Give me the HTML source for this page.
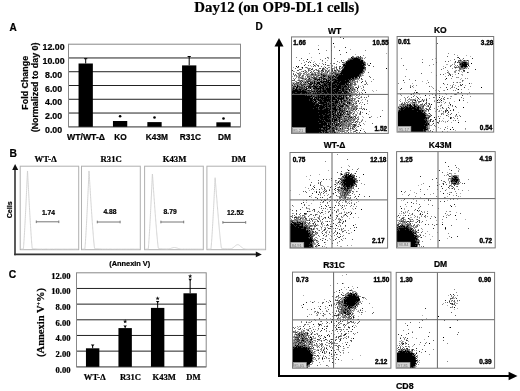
<!DOCTYPE html>
<html><head><meta charset="utf-8"><style>
html,body{margin:0;padding:0;background:#fff;}
body{width:520px;height:391px;overflow:hidden;position:relative;}
svg{position:absolute;left:0;top:0;filter:grayscale(1);}
</style></head><body>
<svg width="520" height="391" viewBox="0 0 520 391">
<text x="194.3" y="12.3" font-family='"Liberation Serif", serif' font-size="14.8" font-weight="bold" text-anchor="start" fill="#000" stroke="#000" stroke-width="0.22" >Day12 (on OP9-DL1 cells)</text>
<text x="9.6" y="30.5" font-family='"Liberation Sans", sans-serif' font-size="10" font-weight="bold" text-anchor="start" fill="#000" stroke="#000" stroke-width="0.22" >A</text>
<text x="9.6" y="157.3" font-family='"Liberation Sans", sans-serif' font-size="10.3" font-weight="bold" text-anchor="start" fill="#000" stroke="#000" stroke-width="0.22" >B</text>
<text x="8.8" y="277.8" font-family='"Liberation Sans", sans-serif' font-size="10.3" font-weight="bold" text-anchor="start" fill="#000" stroke="#000" stroke-width="0.22" >C</text>
<text x="255.4" y="30.3" font-family='"Liberation Sans", sans-serif' font-size="10" font-weight="bold" text-anchor="start" fill="#000" stroke="#000" stroke-width="0.22" >D</text>
<line x1="68.5" y1="57.96666666666667" x2="240.5" y2="57.96666666666667" stroke="#222" stroke-width="1" />
<line x1="68.5" y1="71.73333333333333" x2="240.5" y2="71.73333333333333" stroke="#222" stroke-width="1" />
<line x1="68.5" y1="85.5" x2="240.5" y2="85.5" stroke="#222" stroke-width="1" />
<line x1="68.5" y1="99.26666666666667" x2="240.5" y2="99.26666666666667" stroke="#222" stroke-width="1" />
<line x1="68.5" y1="113.03333333333333" x2="240.5" y2="113.03333333333333" stroke="#222" stroke-width="1" />
<rect x="68.5" y="44.2" width="172.0" height="82.6" fill="none" stroke="#888" stroke-width="1" />
<line x1="68.5" y1="126.8" x2="240.5" y2="126.8" stroke="#777" stroke-width="1.2" />
<text x="53.6" y="50.2" font-family='"Liberation Sans", sans-serif' font-size="8.8" font-weight="bold" text-anchor="middle" fill="#000" stroke="#000" stroke-width="0.22" >12.00</text>
<text x="53.6" y="63.96666666666667" font-family='"Liberation Sans", sans-serif' font-size="8.8" font-weight="bold" text-anchor="middle" fill="#000" stroke="#000" stroke-width="0.22" >10.00</text>
<text x="53.6" y="77.73333333333333" font-family='"Liberation Sans", sans-serif' font-size="8.8" font-weight="bold" text-anchor="middle" fill="#000" stroke="#000" stroke-width="0.22" >8.00</text>
<text x="53.6" y="91.5" font-family='"Liberation Sans", sans-serif' font-size="8.8" font-weight="bold" text-anchor="middle" fill="#000" stroke="#000" stroke-width="0.22" >6.00</text>
<text x="53.6" y="105.26666666666667" font-family='"Liberation Sans", sans-serif' font-size="8.8" font-weight="bold" text-anchor="middle" fill="#000" stroke="#000" stroke-width="0.22" >4.00</text>
<text x="53.6" y="119.03333333333333" font-family='"Liberation Sans", sans-serif' font-size="8.8" font-weight="bold" text-anchor="middle" fill="#000" stroke="#000" stroke-width="0.22" >2.00</text>
<text x="53.6" y="132.8" font-family='"Liberation Sans", sans-serif' font-size="8.8" font-weight="bold" text-anchor="middle" fill="#000" stroke="#000" stroke-width="0.22" >0.00</text>
<rect x="78.55" y="63.5" width="14.3" height="63.3" fill="#000" stroke="none" stroke-width="1" />
<line x1="85.7" y1="58.7" x2="85.7" y2="63.5" stroke="#000" stroke-width="1" />
<line x1="84.10000000000001" y1="58.7" x2="87.3" y2="58.7" stroke="#000" stroke-width="1" />
<rect x="112.94999999999999" y="121.0" width="14.3" height="5.799999999999997" fill="#000" stroke="none" stroke-width="1" />
<circle cx="120.1" cy="116.2" r="1.3" fill="#000"/>
<rect x="147.35" y="122.1" width="14.3" height="4.700000000000003" fill="#000" stroke="none" stroke-width="1" />
<circle cx="154.5" cy="117.5" r="1.3" fill="#000"/>
<rect x="182.04999999999998" y="65.4" width="14.3" height="61.39999999999999" fill="#000" stroke="none" stroke-width="1" />
<line x1="189.2" y1="56.5" x2="189.2" y2="65.4" stroke="#000" stroke-width="1" />
<line x1="187.6" y1="56.5" x2="190.79999999999998" y2="56.5" stroke="#000" stroke-width="1" />
<rect x="216.35" y="122.3" width="14.3" height="4.5" fill="#000" stroke="none" stroke-width="1" />
<circle cx="223.5" cy="118.5" r="1.3" fill="#000"/>
<text x="67.0" y="139.6" font-family='"Liberation Sans", sans-serif' font-size="8.3" font-weight="bold" text-anchor="start" fill="#000" stroke="#000" stroke-width="0.22" textLength="38" lengthAdjust="spacingAndGlyphs">WT/WT-Δ</text>
<text x="114.3" y="139.6" font-family='"Liberation Sans", sans-serif' font-size="8.3" font-weight="bold" text-anchor="start" fill="#000" stroke="#000" stroke-width="0.22" >KO</text>
<text x="145.8" y="139.6" font-family='"Liberation Sans", sans-serif' font-size="8.3" font-weight="bold" text-anchor="start" fill="#000" stroke="#000" stroke-width="0.22" >K43M</text>
<text x="179.8" y="139.6" font-family='"Liberation Sans", sans-serif' font-size="8.3" font-weight="bold" text-anchor="start" fill="#000" stroke="#000" stroke-width="0.22" >R31C</text>
<text x="217.9" y="139.6" font-family='"Liberation Sans", sans-serif' font-size="8.3" font-weight="bold" text-anchor="start" fill="#000" stroke="#000" stroke-width="0.22" >DM</text>
<text transform="translate(28.1,82.8) rotate(-90)" font-family='"Liberation Sans", sans-serif' font-size="8.9" font-weight="bold" stroke="#000" stroke-width="0.22" text-anchor="middle">Fold Change</text>
<text transform="translate(38.0,87.4) rotate(-90)" font-family='"Liberation Sans", sans-serif' font-size="8.9" font-weight="bold" stroke="#000" stroke-width="0.22" text-anchor="middle">(Normalized to day 0)</text>
<line x1="15" y1="168" x2="15" y2="255.2" stroke="#333" stroke-width="1.6" />
<path d="M15.1 164.1 L18.2 169.9 L12.2 169.9 Z" fill="#111"/>
<line x1="14.2" y1="254.4" x2="257" y2="254.4" stroke="#333" stroke-width="1.6" />
<path d="M261.8 254.4 L255.8 251.6 L255.8 257.2 Z" fill="#111"/>
<rect x="20.2" y="166.2" width="58.5" height="83.5" fill="none" stroke="#b0b0b0" stroke-width="1" />
<text x="34.6" y="161.7" font-family='"Liberation Serif", serif' font-size="8.7" font-weight="bold" text-anchor="start" fill="#000" stroke="#000" stroke-width="0.22" >WT-Δ</text>
<text x="41.900000000000006" y="214.8" font-family='"Liberation Sans", sans-serif' font-size="6.7" font-weight="bold" text-anchor="start" fill="#000" stroke="#000" stroke-width="0.22" >1.74</text>
<line x1="36.3" y1="221.8" x2="58.8" y2="221.8" stroke="#777" stroke-width="1" />
<line x1="36.3" y1="220.5" x2="36.3" y2="223.10000000000002" stroke="#777" stroke-width="1" />
<line x1="58.8" y1="220.5" x2="58.8" y2="223.10000000000002" stroke="#777" stroke-width="1" />
<polyline points="21.00,249.20 21.09,249.20 21.19,249.20 21.28,249.20 21.38,249.20 21.47,249.20 21.57,249.20 21.66,249.20 21.76,249.20 21.85,249.20 21.95,249.20 22.04,249.20 22.14,249.20 22.23,249.20 22.33,249.20 22.42,249.20 22.52,249.20 22.61,249.20 22.71,249.20 22.80,249.20 22.90,249.20 22.99,249.20 23.09,249.20 23.18,249.20 23.28,249.20 23.37,248.68 23.47,247.76 23.56,246.70 23.66,245.53 23.75,244.28 23.85,242.96 23.94,241.59 24.04,240.16 24.13,238.69 24.23,237.17 24.32,235.62 24.42,234.03 24.51,232.40 24.61,230.74 24.70,229.06 24.80,227.34 24.89,225.60 24.99,223.82 25.08,222.03 25.18,220.21 25.27,218.37 25.37,216.50 25.46,214.62 25.56,212.71 25.65,210.78 25.75,208.83 25.84,206.87 25.94,204.88 26.03,202.88 26.13,200.86 26.22,198.82 26.32,196.77 26.41,194.70 26.51,192.61 26.60,190.51 26.70,188.40 26.79,186.26 26.89,184.12 26.98,181.96 27.08,179.79 27.17,177.60 27.27,175.40 27.36,173.18 27.46,170.96 27.55,171.08 27.65,172.96 27.74,174.84 27.84,176.71 27.93,178.57 28.03,180.44 28.12,182.29 28.22,184.14 28.31,185.98 28.41,187.82 28.50,189.65 28.60,191.46 28.69,193.27 28.79,195.07 28.88,196.86 28.98,198.64 29.07,200.41 29.17,202.17 29.26,203.91 29.36,205.65 29.45,207.37 29.55,209.07 29.64,210.77 29.74,212.45 29.83,214.11 29.93,215.76 30.02,217.40 30.12,219.02 30.21,220.62 30.31,222.20 30.40,223.77 30.50,225.32 30.59,226.84 30.69,228.35 30.78,229.83 30.88,231.30 30.97,232.73 31.07,234.15 31.16,235.53 31.26,236.89 31.35,238.22 31.45,239.51 31.54,240.77 31.64,241.99 31.73,243.17 31.83,244.30 31.92,245.37 32.02,246.38 32.11,247.31 32.21,248.12 32.30,248.68 32.40,248.69 32.49,248.70 32.59,248.70 32.68,248.71 32.78,248.72 32.87,248.72 32.97,248.73 33.06,248.74 33.16,248.74 33.25,248.75 33.35,248.76 33.44,248.76 33.54,248.77 33.63,248.78 33.73,248.78 33.82,248.79 33.92,248.79 34.01,248.80 34.11,248.81 34.20,248.81 34.30,248.82 34.39,248.82 34.49,248.83 34.58,248.83 34.68,248.84 34.77,248.85 34.87,248.85 34.96,248.86 35.06,248.86 35.15,248.87 35.25,248.87 35.34,248.88 35.44,248.88 35.53,248.89 35.63,248.89 35.72,248.90 35.82,248.90 35.91,248.91 36.01,248.91 36.10,248.91 36.20,248.92 36.29,248.92 36.39,248.93 36.48,248.93 36.58,248.94 36.67,248.94 36.77,248.94 36.86,248.95 36.96,248.95 37.05,248.96 37.15,248.96 37.24,248.96 37.34,248.97 37.43,248.97 37.53,248.97 37.62,248.98 37.72,248.98 37.81,248.99 37.91,248.99 38.00,248.99 38.10,249.00 38.19,249.00 38.29,249.00 38.38,249.00 38.48,249.01 38.57,249.01 38.67,249.01 38.76,249.02 38.86,249.02 38.95,249.02 39.05,249.02 39.14,249.03 39.24,249.03 39.33,249.03 39.43,249.04 39.52,249.04 39.62,249.04 39.71,249.04 39.81,249.05 39.90,249.05 40.00,249.05 40.09,249.05 40.19,249.06 40.28,249.06 40.38,249.06 40.47,249.06 40.57,249.06 40.66,249.07 40.76,249.07 40.85,249.07 40.95,249.07 41.04,249.07 41.14,249.08 41.23,249.08 41.33,249.08 41.42,249.08 41.52,249.08 41.61,249.09 41.71,249.09 41.80,249.09 41.90,249.09 41.99,249.09 42.09,249.09 42.18,249.10 42.28,249.10 42.37,249.10 42.47,249.10 42.56,249.10 42.66,249.10 42.75,249.11 42.85,249.11 42.94,249.11 43.04,249.11 43.13,249.11 43.23,249.11 43.32,249.11 43.42,249.12 43.51,249.12 43.61,249.12 43.70,249.12 43.80,249.12 43.89,249.12 43.99,249.12 44.08,249.12 44.18,249.13 44.27,249.13 44.37,249.13 44.46,249.13 44.56,249.13 44.65,249.13 44.75,249.13 44.84,249.13 44.94,249.13 45.03,249.14 45.13,249.14 45.22,249.14 45.32,249.14 45.41,249.14 45.51,249.14 45.60,249.14 45.70,249.14 45.79,249.14 45.89,249.14 45.98,249.14 46.08,249.15 46.17,249.15 46.27,249.15 46.36,249.15 46.46,249.15 46.55,249.15 46.65,249.15 46.74,249.15 46.84,249.15 46.93,249.15 47.03,249.15 47.12,249.15 47.22,249.16 47.31,249.16 47.41,249.16 47.50,249.16 47.60,249.16 47.69,249.16 47.79,249.16 47.88,249.16 47.98,249.16 48.07,249.16 48.17,249.16 48.26,249.16 48.36,249.16 48.45,249.16 48.55,249.16 48.64,249.16 48.74,249.17 48.83,249.17 48.93,249.17 49.02,249.17 49.12,249.17 49.21,249.17 49.31,249.17 49.40,249.17 49.50,249.17 49.59,249.17 49.69,249.17 49.78,249.17 49.88,249.17 49.97,249.17 50.07,249.17 50.16,249.17 50.26,249.17 50.35,249.17 50.45,249.17 50.54,249.17 50.64,249.17 50.73,249.18 50.83,249.18 50.92,249.18 51.02,249.18 51.11,249.18 51.21,249.18 51.30,249.18 51.40,249.18 51.49,249.18 51.59,249.18 51.68,249.18 51.78,249.18 51.87,249.18 51.97,249.18 52.06,249.18 52.16,249.18 52.25,249.18 52.35,249.18 52.44,249.18 52.54,249.18 52.63,249.18 52.73,249.18 52.82,249.18 52.92,249.18 53.01,249.18 53.11,249.18 53.20,249.18 53.30,249.18 53.39,249.18 53.49,249.18 53.58,249.18 53.68,249.18 53.77,249.18 53.87,249.19 53.96,249.19 54.06,249.19 54.15,249.19 54.25,249.19 54.34,249.19 54.44,249.19 54.53,249.19 54.63,249.19 54.72,249.19 54.82,249.19 54.91,249.19 55.01,249.19 55.10,249.19 55.20,249.19 55.29,249.19 55.39,249.19 55.48,249.19 55.58,249.19 55.67,249.19 55.77,249.19 55.86,249.19 55.96,249.19 56.05,249.19 56.15,249.19 56.24,249.19 56.34,249.19 56.43,249.19 56.53,249.19 56.62,249.19 56.72,249.19 56.81,249.19 56.91,249.19 57.00,249.19 57.10,249.19 57.19,249.19 57.29,249.19 57.38,249.19 57.48,249.19 57.57,249.19 57.67,249.19 57.76,249.19 57.86,249.19 57.95,249.19 58.05,249.19 58.14,249.19 58.24,249.19 58.33,249.19 58.43,249.19 58.52,249.19 58.62,249.19 58.71,249.19 58.81,249.19 58.90,249.19 59.00,249.19 59.09,249.19 59.19,249.19 59.28,249.19 59.38,249.19 59.47,249.19 59.57,249.19 59.66,249.19 59.76,249.19 59.85,249.19 59.95,249.19 60.04,249.19 60.14,249.19 60.23,249.19 60.33,249.19 60.42,249.20 60.52,249.20 60.61,249.20 60.71,249.20 60.80,249.20 60.90,249.20 60.99,249.20 61.09,249.20 61.18,249.20 61.28,249.20 61.37,249.20 61.47,249.20 61.56,249.20 61.66,249.20 61.75,249.20 61.85,249.20 61.94,249.20 62.04,249.20 62.13,249.20 62.23,249.20 62.32,249.20 62.42,249.20 62.51,249.20 62.61,249.20 62.70,249.20 62.80,249.20 62.89,249.20 62.99,249.20 63.08,249.20 63.18,249.20 63.27,249.20 63.37,249.20 63.46,249.20 63.56,249.20 63.65,249.20 63.75,249.20 63.84,249.20 63.94,249.20 64.03,249.20 64.13,249.20 64.22,249.20 64.32,249.20 64.41,249.20 64.51,249.20 64.60,249.20 64.70,249.20 64.79,249.20 64.89,249.20 64.98,249.20 65.08,249.20 65.17,249.20 65.27,249.20 65.36,249.20 65.46,249.20 65.55,249.20 65.65,249.20 65.74,249.20 65.84,249.20 65.93,249.20 66.03,249.20 66.12,249.20 66.22,249.20 66.31,249.20 66.41,249.20 66.50,249.20 66.60,249.20 66.69,249.20 66.79,249.20 66.88,249.20 66.98,249.20 67.07,249.20 67.17,249.20 67.26,249.20 67.36,249.20 67.45,249.20 67.55,249.20 67.64,249.20 67.74,249.20 67.83,249.20 67.93,249.20 68.02,249.20 68.12,249.20 68.21,249.20 68.31,249.20 68.40,249.20 68.50,249.20 68.59,249.20 68.69,249.20 68.78,249.20 68.88,249.20 68.97,249.20 69.07,249.20 69.16,249.20 69.26,249.20 69.35,249.20 69.45,249.20 69.54,249.20 69.64,249.20 69.73,249.20 69.83,249.20 69.92,249.20 70.02,249.20 70.11,249.20 70.21,249.20 70.30,249.20 70.40,249.20 70.49,249.20 70.59,249.20 70.68,249.20 70.78,249.20 70.87,249.20 70.97,249.20 71.06,249.20 71.16,249.20 71.25,249.20 71.35,249.20 71.44,249.20 71.54,249.20 71.63,249.20 71.73,249.20 71.82,249.20 71.92,249.20 72.01,249.20 72.11,249.20 72.20,249.20 72.30,249.20 72.39,249.20 72.49,249.20 72.58,249.20 72.68,249.20 72.77,249.20 72.87,249.20 72.96,249.20 73.06,249.20 73.15,249.20 73.25,249.20 73.34,249.20 73.44,249.20 73.53,249.20 73.63,249.20 73.72,249.20 73.82,249.20 73.91,249.20 74.01,249.20 74.10,249.20 74.20,249.20 74.29,249.20 74.39,249.20 74.48,249.20 74.58,249.20 74.67,249.20 74.77,249.20 74.86,249.20 74.96,249.20 75.05,249.20 75.15,249.20 75.24,249.20 75.34,249.20 75.43,249.20 75.53,249.20 75.62,249.20 75.72,249.20 75.81,249.20 75.91,249.20 76.00,249.20 76.10,249.20 76.19,249.20 76.29,249.20 76.38,249.20 76.48,249.20 76.57,249.20 76.67,249.20 76.76,249.20 76.86,249.20 76.95,249.20 77.05,249.20 77.14,249.20 77.24,249.20 77.33,249.20 77.43,249.20 77.52,249.20 77.62,249.20 77.71,249.20 77.81,249.20 77.90,249.20" fill="none" stroke="#cfcfcf" stroke-width="0.9"/>
<rect x="81.5" y="166.2" width="58.80000000000001" height="83.5" fill="none" stroke="#b0b0b0" stroke-width="1" />
<text x="100.6" y="161.7" font-family='"Liberation Serif", serif' font-size="8.7" font-weight="bold" text-anchor="start" fill="#000" stroke="#000" stroke-width="0.22" >R31C</text>
<text x="103.4" y="213.6" font-family='"Liberation Sans", sans-serif' font-size="6.7" font-weight="bold" text-anchor="start" fill="#000" stroke="#000" stroke-width="0.22" >4.88</text>
<line x1="97.3" y1="222" x2="120.1" y2="222" stroke="#777" stroke-width="1" />
<line x1="97.3" y1="220.7" x2="97.3" y2="223.3" stroke="#777" stroke-width="1" />
<line x1="120.1" y1="220.7" x2="120.1" y2="223.3" stroke="#777" stroke-width="1" />
<polyline points="82.30,249.20 82.40,249.20 82.49,249.20 82.59,249.20 82.68,249.20 82.78,249.20 82.87,249.20 82.97,249.20 83.06,249.20 83.16,249.20 83.25,249.20 83.35,249.20 83.45,249.20 83.54,249.20 83.64,249.20 83.73,249.20 83.83,249.20 83.92,249.20 84.02,249.20 84.11,249.20 84.21,249.20 84.31,249.20 84.40,249.20 84.50,249.20 84.59,249.20 84.69,249.20 84.78,249.20 84.88,248.66 84.97,247.73 85.07,246.66 85.16,245.49 85.26,244.24 85.36,242.93 85.45,241.55 85.55,240.13 85.64,238.65 85.74,237.14 85.83,235.58 85.93,233.99 86.02,232.37 86.12,230.71 86.22,229.02 86.31,227.31 86.41,225.56 86.50,223.79 86.60,222.00 86.69,220.18 86.79,218.34 86.88,216.47 86.98,214.59 87.07,212.68 87.17,210.76 87.27,208.81 87.36,206.85 87.46,204.86 87.55,202.86 87.65,200.84 87.74,198.81 87.84,196.76 87.93,194.69 88.03,192.60 88.13,190.50 88.22,188.39 88.32,186.26 88.41,184.12 88.51,181.96 88.60,179.79 88.70,177.60 88.79,175.40 88.89,173.19 88.98,170.96 89.08,171.90 89.18,173.45 89.27,175.01 89.37,176.57 89.46,178.13 89.56,179.69 89.65,181.25 89.75,182.81 89.84,184.37 89.94,185.92 90.03,187.48 90.13,189.03 90.23,190.57 90.32,192.11 90.42,193.65 90.51,195.18 90.61,196.71 90.70,198.23 90.80,199.74 90.89,201.24 90.99,202.74 91.09,204.23 91.18,205.71 91.28,207.19 91.37,208.65 91.47,210.10 91.56,211.55 91.66,212.98 91.75,214.41 91.85,215.82 91.94,217.22 92.04,218.61 92.14,219.99 92.23,221.36 92.33,222.71 92.42,224.05 92.52,225.37 92.61,226.68 92.71,227.98 92.80,229.26 92.90,230.52 93.00,231.76 93.09,232.99 93.19,234.20 93.28,235.39 93.38,236.55 93.47,237.70 93.57,238.82 93.66,239.92 93.76,240.99 93.85,242.03 93.95,243.03 94.05,244.00 94.14,244.93 94.24,245.82 94.33,246.64 94.43,247.40 94.52,248.05 94.62,248.43 94.71,248.45 94.81,248.46 94.91,248.47 95.00,248.48 95.10,248.49 95.19,248.50 95.29,248.51 95.38,248.52 95.48,248.53 95.57,248.54 95.67,248.55 95.76,248.56 95.86,248.57 95.96,248.58 96.05,248.59 96.15,248.60 96.24,248.61 96.34,248.62 96.43,248.62 96.53,248.63 96.62,248.64 96.72,248.65 96.81,248.66 96.91,248.67 97.01,248.68 97.10,248.68 97.20,248.69 97.29,248.70 97.39,248.71 97.48,248.72 97.58,248.72 97.67,248.73 97.77,248.74 97.87,248.74 97.96,248.75 98.06,248.76 98.15,248.77 98.25,248.77 98.34,248.78 98.44,248.79 98.53,248.79 98.63,248.80 98.72,248.81 98.82,248.81 98.92,248.82 99.01,248.82 99.11,248.83 99.20,248.84 99.30,248.84 99.39,248.85 99.49,248.85 99.58,248.86 99.68,248.86 99.78,248.87 99.87,248.87 99.97,248.88 100.06,248.88 100.16,248.89 100.25,248.89 100.35,248.90 100.44,248.90 100.54,248.91 100.63,248.91 100.73,248.92 100.83,248.92 100.92,248.93 101.02,248.93 101.11,248.93 101.21,248.94 101.30,248.94 101.40,248.95 101.49,248.95 101.59,248.95 101.68,248.96 101.78,248.96 101.88,248.97 101.97,248.97 102.07,248.97 102.16,248.98 102.26,248.98 102.35,248.98 102.45,248.99 102.54,248.99 102.64,248.99 102.74,249.00 102.83,249.00 102.93,249.00 103.02,249.01 103.12,249.01 103.21,249.01 103.31,249.02 103.40,249.02 103.50,249.02 103.59,249.02 103.69,249.03 103.79,249.03 103.88,249.03 103.98,249.04 104.07,249.04 104.17,249.04 104.26,249.04 104.36,249.05 104.45,249.05 104.55,249.05 104.65,249.05 104.74,249.05 104.84,249.06 104.93,249.06 105.03,249.06 105.12,249.06 105.22,249.07 105.31,249.07 105.41,249.07 105.50,249.07 105.60,249.07 105.70,249.08 105.79,249.08 105.89,249.08 105.98,249.08 106.08,249.08 106.17,249.09 106.27,249.09 106.36,249.09 106.46,249.09 106.56,249.09 106.65,249.09 106.75,249.10 106.84,249.10 106.94,249.10 107.03,249.10 107.13,249.10 107.22,249.10 107.32,249.11 107.41,249.11 107.51,249.11 107.61,249.11 107.70,249.11 107.80,249.11 107.89,249.11 107.99,249.12 108.08,249.12 108.18,249.12 108.27,249.12 108.37,249.12 108.46,249.12 108.56,249.12 108.66,249.12 108.75,249.13 108.85,249.13 108.94,249.13 109.04,249.13 109.13,249.13 109.23,249.13 109.32,249.13 109.42,249.13 109.52,249.13 109.61,249.14 109.71,249.14 109.80,249.14 109.90,249.14 109.99,249.14 110.09,249.14 110.18,249.14 110.28,249.14 110.37,249.14 110.47,249.14 110.57,249.15 110.66,249.15 110.76,249.15 110.85,249.15 110.95,249.15 111.04,249.15 111.14,249.15 111.23,249.15 111.33,249.15 111.43,249.15 111.52,249.15 111.62,249.15 111.71,249.15 111.81,249.16 111.90,249.16 112.00,249.16 112.09,249.16 112.19,249.16 112.28,249.16 112.38,249.16 112.48,249.16 112.57,249.16 112.67,249.16 112.76,249.16 112.86,249.16 112.95,249.16 113.05,249.16 113.14,249.16 113.24,249.16 113.34,249.17 113.43,249.17 113.53,249.17 113.62,249.17 113.72,249.17 113.81,249.17 113.91,249.17 114.00,249.17 114.10,249.17 114.19,249.17 114.29,249.17 114.39,249.17 114.48,249.17 114.58,249.17 114.67,249.17 114.77,249.17 114.86,249.17 114.96,249.17 115.05,249.17 115.15,249.17 115.24,249.17 115.34,249.18 115.44,249.18 115.53,249.18 115.63,249.18 115.72,249.18 115.82,249.18 115.91,249.18 116.01,249.18 116.10,249.18 116.20,249.18 116.30,249.18 116.39,249.18 116.49,249.18 116.58,249.18 116.68,249.18 116.77,249.18 116.87,249.18 116.96,249.18 117.06,249.18 117.15,249.18 117.25,249.18 117.35,249.18 117.44,249.18 117.54,249.18 117.63,249.18 117.73,249.18 117.82,249.18 117.92,249.18 118.01,249.18 118.11,249.18 118.21,249.18 118.30,249.18 118.40,249.19 118.49,249.19 118.59,249.19 118.68,249.19 118.78,249.19 118.87,249.19 118.97,249.19 119.06,249.19 119.16,249.19 119.26,249.19 119.35,249.19 119.45,249.19 119.54,249.19 119.64,249.19 119.73,249.19 119.83,249.19 119.92,249.19 120.02,249.19 120.12,249.19 120.21,249.19 120.31,249.19 120.40,249.19 120.50,249.19 120.59,249.19 120.69,249.19 120.78,249.19 120.88,249.19 120.97,249.19 121.07,249.19 121.17,249.19 121.26,249.19 121.36,249.19 121.45,249.19 121.55,249.19 121.64,249.19 121.74,249.19 121.83,249.19 121.93,249.19 122.02,249.19 122.12,249.19 122.22,249.19 122.31,249.19 122.41,249.19 122.50,249.19 122.60,249.19 122.69,249.19 122.79,249.19 122.88,249.19 122.98,249.19 123.08,249.19 123.17,249.19 123.27,249.19 123.36,249.19 123.46,249.19 123.55,249.19 123.65,249.19 123.74,249.19 123.84,249.19 123.93,249.19 124.03,249.19 124.13,249.19 124.22,249.19 124.32,249.19 124.41,249.19 124.51,249.19 124.60,249.19 124.70,249.19 124.79,249.19 124.89,249.19 124.99,249.20 125.08,249.20 125.18,249.20 125.27,249.20 125.37,249.20 125.46,249.20 125.56,249.20 125.65,249.20 125.75,249.20 125.84,249.20 125.94,249.20 126.04,249.20 126.13,249.20 126.23,249.20 126.32,249.20 126.42,249.20 126.51,249.20 126.61,249.20 126.70,249.20 126.80,249.20 126.89,249.20 126.99,249.20 127.09,249.20 127.18,249.20 127.28,249.20 127.37,249.20 127.47,249.20 127.56,249.20 127.66,249.20 127.75,249.20 127.85,249.20 127.95,249.20 128.04,249.20 128.14,249.20 128.23,249.20 128.33,249.20 128.42,249.20 128.52,249.20 128.61,249.20 128.71,249.20 128.80,249.20 128.90,249.20 129.00,249.20 129.09,249.20 129.19,249.20 129.28,249.20 129.38,249.20 129.47,249.20 129.57,249.20 129.66,249.20 129.76,249.20 129.86,249.20 129.95,249.20 130.05,249.20 130.14,249.20 130.24,249.20 130.33,249.20 130.43,249.20 130.52,249.20 130.62,249.20 130.71,249.20 130.81,249.20 130.91,249.20 131.00,249.20 131.10,249.20 131.19,249.20 131.29,249.20 131.38,249.20 131.48,249.20 131.57,249.20 131.67,249.20 131.77,249.20 131.86,249.20 131.96,249.20 132.05,249.20 132.15,249.20 132.24,249.20 132.34,249.20 132.43,249.20 132.53,249.20 132.62,249.20 132.72,249.20 132.82,249.20 132.91,249.20 133.01,249.20 133.10,249.20 133.20,249.20 133.29,249.20 133.39,249.20 133.48,249.20 133.58,249.20 133.67,249.20 133.77,249.20 133.87,249.20 133.96,249.20 134.06,249.20 134.15,249.20 134.25,249.20 134.34,249.20 134.44,249.20 134.53,249.20 134.63,249.20 134.73,249.20 134.82,249.20 134.92,249.20 135.01,249.20 135.11,249.20 135.20,249.20 135.30,249.20 135.39,249.20 135.49,249.20 135.58,249.20 135.68,249.20 135.78,249.20 135.87,249.20 135.97,249.20 136.06,249.20 136.16,249.20 136.25,249.20 136.35,249.20 136.44,249.20 136.54,249.20 136.64,249.20 136.73,249.20 136.83,249.20 136.92,249.20 137.02,249.20 137.11,249.20 137.21,249.20 137.30,249.20 137.40,249.20 137.49,249.20 137.59,249.20 137.69,249.20 137.78,249.20 137.88,249.20 137.97,249.20 138.07,249.20 138.16,249.20 138.26,249.20 138.35,249.20 138.45,249.20 138.55,249.20 138.64,249.20 138.74,249.20 138.83,249.20 138.93,249.20 139.02,249.20 139.12,249.20 139.21,249.20 139.31,249.20 139.40,249.20 139.50,249.20" fill="none" stroke="#cfcfcf" stroke-width="0.9"/>
<rect x="144.6" y="166.2" width="58.70000000000002" height="83.5" fill="none" stroke="#b0b0b0" stroke-width="1" />
<text x="162.7" y="161.7" font-family='"Liberation Serif", serif' font-size="8.7" font-weight="bold" text-anchor="start" fill="#000" stroke="#000" stroke-width="0.22" >K43M</text>
<text x="163.6" y="214.0" font-family='"Liberation Sans", sans-serif' font-size="6.7" font-weight="bold" text-anchor="start" fill="#000" stroke="#000" stroke-width="0.22" >8.79</text>
<line x1="160.9" y1="222" x2="183.7" y2="222" stroke="#777" stroke-width="1" />
<line x1="160.9" y1="220.7" x2="160.9" y2="223.3" stroke="#777" stroke-width="1" />
<line x1="183.7" y1="220.7" x2="183.7" y2="223.3" stroke="#777" stroke-width="1" />
<polyline points="145.40,249.20 145.50,249.20 145.59,249.20 145.69,249.20 145.78,249.20 145.88,249.20 145.97,249.20 146.07,249.20 146.16,249.20 146.26,249.20 146.35,249.20 146.45,249.20 146.54,249.20 146.64,249.20 146.73,249.20 146.83,249.20 146.93,249.20 147.02,249.20 147.12,249.20 147.21,249.20 147.31,249.20 147.40,249.20 147.50,249.20 147.59,249.20 147.69,249.20 147.78,249.20 147.88,249.20 147.97,249.20 148.07,249.20 148.16,249.20 148.26,248.83 148.36,247.97 148.45,246.96 148.55,245.85 148.64,244.66 148.74,243.41 148.83,242.09 148.93,240.73 149.02,239.31 149.12,237.86 149.21,236.37 149.31,234.84 149.40,233.28 149.50,231.69 149.59,230.07 149.69,228.43 149.78,226.75 149.88,225.05 149.98,223.33 150.07,221.58 150.17,219.81 150.26,218.02 150.36,216.20 150.45,214.37 150.55,212.52 150.64,210.65 150.74,208.76 150.83,206.85 150.93,204.92 151.02,202.98 151.12,201.02 151.21,199.05 151.31,197.06 151.41,195.06 151.50,193.04 151.60,191.00 151.69,188.95 151.79,186.89 151.88,184.81 151.98,182.72 152.07,180.62 152.17,178.50 152.26,176.37 152.36,174.23 152.45,174.07 152.55,175.43 152.64,176.80 152.74,178.18 152.84,179.56 152.93,180.94 153.03,182.33 153.12,183.72 153.22,185.11 153.31,186.50 153.41,187.89 153.50,189.28 153.60,190.66 153.69,192.05 153.79,193.43 153.88,194.81 153.98,196.19 154.07,197.56 154.17,198.93 154.27,200.29 154.36,201.65 154.46,203.00 154.55,204.35 154.65,205.69 154.74,207.03 154.84,208.35 154.93,209.67 155.03,210.99 155.12,212.29 155.22,213.59 155.31,214.87 155.41,216.15 155.50,217.42 155.60,218.68 155.70,219.93 155.79,221.17 155.89,222.40 155.98,223.62 156.08,224.82 156.17,226.02 156.27,227.20 156.36,228.37 156.46,229.53 156.55,230.67 156.65,231.80 156.74,232.91 156.84,234.01 156.93,235.09 157.03,236.16 157.13,237.20 157.22,238.23 157.32,239.24 157.41,240.22 157.51,241.19 157.60,242.12 157.70,243.03 157.79,243.91 157.89,244.76 157.98,245.57 158.08,246.33 158.17,247.04 158.27,247.68 158.36,248.20 158.46,248.34 158.55,248.35 158.65,248.37 158.75,248.38 158.84,248.39 158.94,248.40 159.03,248.41 159.13,248.43 159.22,248.44 159.32,248.45 159.41,248.46 159.51,248.47 159.60,248.48 159.70,248.49 159.79,248.51 159.89,248.52 159.98,248.53 160.08,248.54 160.18,248.55 160.27,248.56 160.37,248.57 160.46,248.58 160.56,248.59 160.65,248.60 160.75,248.61 160.84,248.61 160.94,248.62 161.03,248.63 161.13,248.64 161.22,248.65 161.32,248.66 161.41,248.67 161.51,248.68 161.61,248.68 161.70,248.69 161.80,248.70 161.89,248.71 161.99,248.71 162.08,248.72 162.18,248.73 162.27,248.74 162.37,248.74 162.46,248.75 162.56,248.76 162.65,248.77 162.75,248.77 162.84,248.78 162.94,248.79 163.04,248.79 163.13,248.80 163.23,248.80 163.32,248.81 163.42,248.82 163.51,248.82 163.61,248.83 163.70,248.83 163.80,248.84 163.89,248.84 163.99,248.85 164.08,248.85 164.18,248.86 164.27,248.86 164.37,248.87 164.47,248.87 164.56,248.88 164.66,248.88 164.75,248.89 164.85,248.89 164.94,248.89 165.04,248.90 165.13,248.90 165.23,248.90 165.32,248.91 165.42,248.91 165.51,248.91 165.61,248.91 165.70,248.92 165.80,248.92 165.89,248.92 165.99,248.92 166.09,248.92 166.18,248.92 166.28,248.93 166.37,248.93 166.47,248.93 166.56,248.93 166.66,248.92 166.75,248.92 166.85,248.92 166.94,248.92 167.04,248.92 167.13,248.92 167.23,248.91 167.32,248.91 167.42,248.90 167.52,248.90 167.61,248.90 167.71,248.89 167.80,248.88 167.90,248.88 167.99,248.87 168.09,248.86 168.18,248.85 168.28,248.84 168.37,248.83 168.47,248.82 168.56,248.81 168.66,248.80 168.75,248.79 168.85,248.77 168.95,248.76 169.04,248.74 169.14,248.73 169.23,248.71 169.33,248.70 169.42,248.68 169.52,248.66 169.61,248.64 169.71,248.62 169.80,248.60 169.90,248.58 169.99,248.55 170.09,248.53 170.18,248.51 170.28,248.48 170.38,248.46 170.47,248.43 170.57,248.41 170.66,248.38 170.76,248.35 170.85,248.33 170.95,248.30 171.04,248.27 171.14,248.24 171.23,248.21 171.33,248.18 171.42,248.15 171.52,248.12 171.61,248.09 171.71,248.07 171.81,248.04 171.90,248.01 172.00,247.98 172.09,247.95 172.19,247.92 172.28,247.90 172.38,247.87 172.47,247.84 172.57,247.82 172.66,247.79 172.76,247.77 172.85,247.74 172.95,247.72 173.04,247.70 173.14,247.68 173.24,247.66 173.33,247.64 173.43,247.63 173.52,247.61 173.62,247.60 173.71,247.59 173.81,247.57 173.90,247.56 174.00,247.56 174.09,247.55 174.19,247.55 174.28,247.54 174.38,247.54 174.47,247.54 174.57,247.54 174.66,247.54 174.76,247.55 174.86,247.55 174.95,247.56 175.05,247.57 175.14,247.58 175.24,247.59 175.33,247.61 175.43,247.62 175.52,247.64 175.62,247.66 175.71,247.68 175.81,247.70 175.90,247.72 176.00,247.74 176.09,247.76 176.19,247.79 176.29,247.81 176.38,247.84 176.48,247.87 176.57,247.90 176.67,247.93 176.76,247.95 176.86,247.98 176.95,248.01 177.05,248.05 177.14,248.08 177.24,248.11 177.33,248.14 177.43,248.17 177.52,248.20 177.62,248.23 177.72,248.26 177.81,248.29 177.91,248.33 178.00,248.36 178.10,248.39 178.19,248.42 178.29,248.45 178.38,248.48 178.48,248.50 178.57,248.53 178.67,248.56 178.76,248.59 178.86,248.61 178.95,248.64 179.05,248.67 179.15,248.69 179.24,248.71 179.34,248.74 179.43,248.76 179.53,248.78 179.62,248.80 179.72,248.82 179.81,248.84 179.91,248.86 180.00,248.88 180.10,248.90 180.19,248.91 180.29,248.93 180.38,248.94 180.48,248.96 180.58,248.97 180.67,248.99 180.77,249.00 180.86,249.01 180.96,249.02 181.05,249.03 181.15,249.04 181.24,249.05 181.34,249.06 181.43,249.07 181.53,249.08 181.62,249.09 181.72,249.09 181.81,249.10 181.91,249.11 182.01,249.11 182.10,249.12 182.20,249.12 182.29,249.13 182.39,249.13 182.48,249.14 182.58,249.14 182.67,249.15 182.77,249.15 182.86,249.15 182.96,249.16 183.05,249.16 183.15,249.16 183.24,249.16 183.34,249.17 183.43,249.17 183.53,249.17 183.63,249.17 183.72,249.17 183.82,249.17 183.91,249.18 184.01,249.18 184.10,249.18 184.20,249.18 184.29,249.18 184.39,249.18 184.48,249.18 184.58,249.18 184.67,249.18 184.77,249.18 184.86,249.19 184.96,249.19 185.06,249.19 185.15,249.19 185.25,249.19 185.34,249.19 185.44,249.19 185.53,249.19 185.63,249.19 185.72,249.19 185.82,249.19 185.91,249.19 186.01,249.19 186.10,249.19 186.20,249.19 186.29,249.19 186.39,249.19 186.49,249.19 186.58,249.19 186.68,249.19 186.77,249.19 186.87,249.19 186.96,249.19 187.06,249.19 187.15,249.19 187.25,249.19 187.34,249.19 187.44,249.19 187.53,249.19 187.63,249.19 187.72,249.19 187.82,249.19 187.92,249.19 188.01,249.19 188.11,249.19 188.20,249.19 188.30,249.19 188.39,249.19 188.49,249.19 188.58,249.19 188.68,249.19 188.77,249.19 188.87,249.19 188.96,249.19 189.06,249.19 189.15,249.19 189.25,249.19 189.35,249.19 189.44,249.19 189.54,249.20 189.63,249.20 189.73,249.20 189.82,249.20 189.92,249.20 190.01,249.20 190.11,249.20 190.20,249.20 190.30,249.20 190.39,249.20 190.49,249.20 190.58,249.20 190.68,249.20 190.77,249.20 190.87,249.20 190.97,249.20 191.06,249.20 191.16,249.20 191.25,249.20 191.35,249.20 191.44,249.20 191.54,249.20 191.63,249.20 191.73,249.20 191.82,249.20 191.92,249.20 192.01,249.20 192.11,249.20 192.20,249.20 192.30,249.20 192.40,249.20 192.49,249.20 192.59,249.20 192.68,249.20 192.78,249.20 192.87,249.20 192.97,249.20 193.06,249.20 193.16,249.20 193.25,249.20 193.35,249.20 193.44,249.20 193.54,249.20 193.63,249.20 193.73,249.20 193.83,249.20 193.92,249.20 194.02,249.20 194.11,249.20 194.21,249.20 194.30,249.20 194.40,249.20 194.49,249.20 194.59,249.20 194.68,249.20 194.78,249.20 194.87,249.20 194.97,249.20 195.06,249.20 195.16,249.20 195.26,249.20 195.35,249.20 195.45,249.20 195.54,249.20 195.64,249.20 195.73,249.20 195.83,249.20 195.92,249.20 196.02,249.20 196.11,249.20 196.21,249.20 196.30,249.20 196.40,249.20 196.49,249.20 196.59,249.20 196.69,249.20 196.78,249.20 196.88,249.20 196.97,249.20 197.07,249.20 197.16,249.20 197.26,249.20 197.35,249.20 197.45,249.20 197.54,249.20 197.64,249.20 197.73,249.20 197.83,249.20 197.92,249.20 198.02,249.20 198.12,249.20 198.21,249.20 198.31,249.20 198.40,249.20 198.50,249.20 198.59,249.20 198.69,249.20 198.78,249.20 198.88,249.20 198.97,249.20 199.07,249.20 199.16,249.20 199.26,249.20 199.35,249.20 199.45,249.20 199.54,249.20 199.64,249.20 199.74,249.20 199.83,249.20 199.93,249.20 200.02,249.20 200.12,249.20 200.21,249.20 200.31,249.20 200.40,249.20 200.50,249.20 200.59,249.20 200.69,249.20 200.78,249.20 200.88,249.20 200.97,249.20 201.07,249.20 201.17,249.20 201.26,249.20 201.36,249.20 201.45,249.20 201.55,249.20 201.64,249.20 201.74,249.20 201.83,249.20 201.93,249.20 202.02,249.20 202.12,249.20 202.21,249.20 202.31,249.20 202.40,249.20 202.50,249.20" fill="none" stroke="#cfcfcf" stroke-width="0.9"/>
<rect x="206.9" y="166.2" width="58.70000000000002" height="83.5" fill="none" stroke="#b0b0b0" stroke-width="1" />
<text x="231.5" y="161.7" font-family='"Liberation Serif", serif' font-size="8.7" font-weight="bold" text-anchor="start" fill="#000" stroke="#000" stroke-width="0.22" >DM</text>
<text x="227.1" y="215.1" font-family='"Liberation Sans", sans-serif' font-size="6.7" font-weight="bold" text-anchor="start" fill="#000" stroke="#000" stroke-width="0.22" >12.52</text>
<line x1="222.9" y1="222.4" x2="245.7" y2="222.4" stroke="#777" stroke-width="1" />
<line x1="222.9" y1="221.1" x2="222.9" y2="223.70000000000002" stroke="#777" stroke-width="1" />
<line x1="245.7" y1="221.1" x2="245.7" y2="223.70000000000002" stroke="#777" stroke-width="1" />
<polyline points="207.70,249.20 207.80,249.20 207.89,249.20 207.99,249.20 208.08,249.20 208.18,249.20 208.27,249.20 208.37,249.20 208.46,249.20 208.56,249.20 208.65,249.20 208.75,249.20 208.84,249.20 208.94,249.20 209.03,249.20 209.13,249.20 209.23,249.20 209.32,249.20 209.42,249.20 209.51,249.20 209.61,249.20 209.70,249.20 209.80,249.20 209.89,249.20 209.99,249.20 210.08,249.20 210.18,249.20 210.27,249.20 210.37,249.20 210.46,249.20 210.56,249.20 210.66,249.20 210.75,249.20 210.85,249.20 210.94,248.98 211.04,248.21 211.13,247.28 211.23,246.24 211.32,245.13 211.42,243.95 211.51,242.71 211.61,241.43 211.70,240.10 211.80,238.73 211.89,237.33 211.99,235.89 212.08,234.42 212.18,232.91 212.28,231.38 212.37,229.83 212.47,228.25 212.56,226.64 212.66,225.01 212.75,223.36 212.85,221.69 212.94,219.99 213.04,218.28 213.13,216.55 213.23,214.80 213.32,213.03 213.42,211.24 213.51,209.44 213.61,207.62 213.71,205.78 213.80,203.93 213.90,202.06 213.99,200.18 214.09,198.28 214.18,196.37 214.28,194.45 214.37,192.51 214.47,190.56 214.56,188.59 214.66,186.61 214.75,184.62 214.85,182.62 214.94,180.61 215.04,178.58 215.14,177.73 215.23,178.90 215.33,180.08 215.42,181.27 215.52,182.47 215.61,183.67 215.71,184.88 215.80,186.10 215.90,187.31 215.99,188.54 216.09,189.76 216.18,190.98 216.28,192.21 216.37,193.43 216.47,194.66 216.57,195.88 216.66,197.11 216.76,198.33 216.85,199.55 216.95,200.76 217.04,201.97 217.14,203.18 217.23,204.39 217.33,205.59 217.42,206.79 217.52,207.98 217.61,209.16 217.71,210.34 217.80,211.52 217.90,212.69 218.00,213.85 218.09,215.01 218.19,216.16 218.28,217.30 218.38,218.43 218.47,219.56 218.57,220.68 218.66,221.78 218.76,222.89 218.85,223.98 218.95,225.06 219.04,226.13 219.14,227.20 219.23,228.25 219.33,229.29 219.43,230.32 219.52,231.34 219.62,232.35 219.71,233.35 219.81,234.33 219.90,235.30 220.00,236.25 220.09,237.20 220.19,238.12 220.28,239.03 220.38,239.92 220.47,240.79 220.57,241.64 220.66,242.48 220.76,243.28 220.85,244.07 220.95,244.82 221.05,245.54 221.14,246.23 221.24,246.87 221.33,247.46 221.43,247.97 221.52,248.25 221.62,248.27 221.71,248.28 221.81,248.30 221.90,248.31 222.00,248.32 222.09,248.34 222.19,248.35 222.28,248.36 222.38,248.37 222.48,248.39 222.57,248.40 222.67,248.41 222.76,248.42 222.86,248.44 222.95,248.45 223.05,248.46 223.14,248.47 223.24,248.48 223.33,248.49 223.43,248.50 223.52,248.51 223.62,248.53 223.71,248.54 223.81,248.55 223.91,248.56 224.00,248.57 224.10,248.58 224.19,248.59 224.29,248.60 224.38,248.60 224.48,248.61 224.57,248.62 224.67,248.63 224.76,248.64 224.86,248.65 224.95,248.66 225.05,248.67 225.14,248.68 225.24,248.68 225.34,248.69 225.43,248.70 225.53,248.71 225.62,248.71 225.72,248.72 225.81,248.73 225.91,248.74 226.00,248.74 226.10,248.75 226.19,248.76 226.29,248.76 226.38,248.77 226.48,248.78 226.57,248.78 226.67,248.79 226.77,248.79 226.86,248.80 226.96,248.80 227.05,248.81 227.15,248.81 227.24,248.82 227.34,248.82 227.43,248.83 227.53,248.83 227.62,248.84 227.72,248.84 227.81,248.84 227.91,248.85 228.00,248.85 228.10,248.85 228.19,248.85 228.29,248.86 228.39,248.86 228.48,248.86 228.58,248.86 228.67,248.86 228.77,248.86 228.86,248.86 228.96,248.86 229.05,248.86 229.15,248.85 229.24,248.85 229.34,248.85 229.43,248.84 229.53,248.84 229.62,248.83 229.72,248.82 229.82,248.82 229.91,248.81 230.01,248.80 230.10,248.79 230.20,248.78 230.29,248.76 230.39,248.75 230.48,248.74 230.58,248.72 230.67,248.70 230.77,248.68 230.86,248.66 230.96,248.64 231.05,248.62 231.15,248.59 231.25,248.57 231.34,248.54 231.44,248.51 231.53,248.48 231.63,248.44 231.72,248.41 231.82,248.37 231.91,248.33 232.01,248.29 232.10,248.25 232.20,248.20 232.29,248.15 232.39,248.10 232.48,248.05 232.58,248.00 232.68,247.94 232.77,247.89 232.87,247.83 232.96,247.76 233.06,247.70 233.15,247.64 233.25,247.57 233.34,247.50 233.44,247.43 233.53,247.36 233.63,247.28 233.72,247.20 233.82,247.13 233.91,247.05 234.01,246.97 234.11,246.89 234.20,246.81 234.30,246.72 234.39,246.64 234.49,246.55 234.58,246.47 234.68,246.38 234.77,246.30 234.87,246.21 234.96,246.13 235.06,246.05 235.15,245.96 235.25,245.88 235.34,245.80 235.44,245.72 235.54,245.64 235.63,245.56 235.73,245.49 235.82,245.41 235.92,245.34 236.01,245.27 236.11,245.21 236.20,245.14 236.30,245.08 236.39,245.03 236.49,244.97 236.58,244.92 236.68,244.88 236.77,244.83 236.87,244.79 236.96,244.76 237.06,244.73 237.16,244.70 237.25,244.68 237.35,244.66 237.44,244.65 237.54,244.64 237.63,244.64 237.73,244.64 237.82,244.64 237.92,244.65 238.01,244.66 238.11,244.68 238.20,244.70 238.30,244.73 238.39,244.76 238.49,244.80 238.59,244.84 238.68,244.88 238.78,244.93 238.87,244.98 238.97,245.03 239.06,245.09 239.16,245.15 239.25,245.21 239.35,245.28 239.44,245.35 239.54,245.42 239.63,245.50 239.73,245.57 239.82,245.65 239.92,245.73 240.02,245.82 240.11,245.90 240.21,245.98 240.30,246.07 240.40,246.15 240.49,246.24 240.59,246.33 240.68,246.42 240.78,246.50 240.87,246.59 240.97,246.68 241.06,246.76 241.16,246.85 241.25,246.93 241.35,247.02 241.45,247.10 241.54,247.18 241.64,247.26 241.73,247.34 241.83,247.42 241.92,247.50 242.02,247.57 242.11,247.64 242.21,247.71 242.30,247.78 242.40,247.85 242.49,247.92 242.59,247.98 242.68,248.04 242.78,248.10 242.88,248.16 242.97,248.21 243.07,248.26 243.16,248.32 243.26,248.36 243.35,248.41 243.45,248.46 243.54,248.50 243.64,248.54 243.73,248.58 243.83,248.62 243.92,248.65 244.02,248.69 244.11,248.72 244.21,248.75 244.31,248.78 244.40,248.81 244.50,248.83 244.59,248.86 244.69,248.88 244.78,248.90 244.88,248.92 244.97,248.94 245.07,248.96 245.16,248.98 245.26,248.99 245.35,249.01 245.45,249.02 245.54,249.04 245.64,249.05 245.73,249.06 245.83,249.07 245.93,249.08 246.02,249.09 246.12,249.10 246.21,249.10 246.31,249.11 246.40,249.12 246.50,249.12 246.59,249.13 246.69,249.13 246.78,249.14 246.88,249.14 246.97,249.15 247.07,249.15 247.16,249.16 247.26,249.16 247.36,249.16 247.45,249.16 247.55,249.17 247.64,249.17 247.74,249.17 247.83,249.17 247.93,249.17 248.02,249.18 248.12,249.18 248.21,249.18 248.31,249.18 248.40,249.18 248.50,249.18 248.59,249.18 248.69,249.18 248.79,249.18 248.88,249.19 248.98,249.19 249.07,249.19 249.17,249.19 249.26,249.19 249.36,249.19 249.45,249.19 249.55,249.19 249.64,249.19 249.74,249.19 249.83,249.19 249.93,249.19 250.02,249.19 250.12,249.19 250.22,249.19 250.31,249.19 250.41,249.19 250.50,249.19 250.60,249.19 250.69,249.19 250.79,249.19 250.88,249.19 250.98,249.19 251.07,249.19 251.17,249.19 251.26,249.19 251.36,249.19 251.45,249.19 251.55,249.19 251.65,249.19 251.74,249.19 251.84,249.19 251.93,249.19 252.03,249.19 252.12,249.19 252.22,249.19 252.31,249.19 252.41,249.19 252.50,249.19 252.60,249.19 252.69,249.19 252.79,249.19 252.88,249.19 252.98,249.19 253.07,249.19 253.17,249.20 253.27,249.20 253.36,249.20 253.46,249.20 253.55,249.20 253.65,249.20 253.74,249.20 253.84,249.20 253.93,249.20 254.03,249.20 254.12,249.20 254.22,249.20 254.31,249.20 254.41,249.20 254.50,249.20 254.60,249.20 254.70,249.20 254.79,249.20 254.89,249.20 254.98,249.20 255.08,249.20 255.17,249.20 255.27,249.20 255.36,249.20 255.46,249.20 255.55,249.20 255.65,249.20 255.74,249.20 255.84,249.20 255.93,249.20 256.03,249.20 256.13,249.20 256.22,249.20 256.32,249.20 256.41,249.20 256.51,249.20 256.60,249.20 256.70,249.20 256.79,249.20 256.89,249.20 256.98,249.20 257.08,249.20 257.17,249.20 257.27,249.20 257.36,249.20 257.46,249.20 257.56,249.20 257.65,249.20 257.75,249.20 257.84,249.20 257.94,249.20 258.03,249.20 258.13,249.20 258.22,249.20 258.32,249.20 258.41,249.20 258.51,249.20 258.60,249.20 258.70,249.20 258.79,249.20 258.89,249.20 258.99,249.20 259.08,249.20 259.18,249.20 259.27,249.20 259.37,249.20 259.46,249.20 259.56,249.20 259.65,249.20 259.75,249.20 259.84,249.20 259.94,249.20 260.03,249.20 260.13,249.20 260.22,249.20 260.32,249.20 260.42,249.20 260.51,249.20 260.61,249.20 260.70,249.20 260.80,249.20 260.89,249.20 260.99,249.20 261.08,249.20 261.18,249.20 261.27,249.20 261.37,249.20 261.46,249.20 261.56,249.20 261.65,249.20 261.75,249.20 261.84,249.20 261.94,249.20 262.04,249.20 262.13,249.20 262.23,249.20 262.32,249.20 262.42,249.20 262.51,249.20 262.61,249.20 262.70,249.20 262.80,249.20 262.89,249.20 262.99,249.20 263.08,249.20 263.18,249.20 263.27,249.20 263.37,249.20 263.47,249.20 263.56,249.20 263.66,249.20 263.75,249.20 263.85,249.20 263.94,249.20 264.04,249.20 264.13,249.20 264.23,249.20 264.32,249.20 264.42,249.20 264.51,249.20 264.61,249.20 264.70,249.20 264.80,249.20" fill="none" stroke="#cfcfcf" stroke-width="0.9"/>
<text transform="translate(12.0,209.8) rotate(-90)" font-family='"Liberation Sans", sans-serif' font-size="7.1" font-weight="bold" stroke="#000" stroke-width="0.2" text-anchor="middle">Cells</text>
<text x="109.2" y="266.0" font-family='"Liberation Sans", sans-serif' font-size="7.4" font-weight="bold" text-anchor="start" fill="#000" stroke="#000" stroke-width="0.22" >(Annexin V)</text>
<line x1="76.5" y1="288.4666666666667" x2="206.2" y2="288.4666666666667" stroke="#222" stroke-width="1" />
<line x1="76.5" y1="304.1333333333333" x2="206.2" y2="304.1333333333333" stroke="#222" stroke-width="1" />
<line x1="76.5" y1="319.8" x2="206.2" y2="319.8" stroke="#222" stroke-width="1" />
<line x1="76.5" y1="335.4666666666667" x2="206.2" y2="335.4666666666667" stroke="#222" stroke-width="1" />
<line x1="76.5" y1="351.1333333333333" x2="206.2" y2="351.1333333333333" stroke="#222" stroke-width="1" />
<rect x="76.5" y="272.8" width="129.7" height="94.0" fill="none" stroke="#888" stroke-width="1" />
<line x1="76.5" y1="366.8" x2="206.2" y2="366.8" stroke="#777" stroke-width="1.2" />
<text x="70.6" y="278.8" font-family='"Liberation Serif", serif' font-size="8.6" font-weight="bold" text-anchor="end" fill="#000" stroke="#000" stroke-width="0.22" >12.00</text>
<text x="70.6" y="294.4666666666667" font-family='"Liberation Serif", serif' font-size="8.6" font-weight="bold" text-anchor="end" fill="#000" stroke="#000" stroke-width="0.22" >10.00</text>
<text x="70.6" y="310.1333333333333" font-family='"Liberation Serif", serif' font-size="8.6" font-weight="bold" text-anchor="end" fill="#000" stroke="#000" stroke-width="0.22" >8.00</text>
<text x="70.6" y="325.8" font-family='"Liberation Serif", serif' font-size="8.6" font-weight="bold" text-anchor="end" fill="#000" stroke="#000" stroke-width="0.22" >6.00</text>
<text x="70.6" y="341.4666666666667" font-family='"Liberation Serif", serif' font-size="8.6" font-weight="bold" text-anchor="end" fill="#000" stroke="#000" stroke-width="0.22" >4.00</text>
<text x="70.6" y="357.1333333333333" font-family='"Liberation Serif", serif' font-size="8.6" font-weight="bold" text-anchor="end" fill="#000" stroke="#000" stroke-width="0.22" >2.00</text>
<text x="70.6" y="372.8" font-family='"Liberation Serif", serif' font-size="8.6" font-weight="bold" text-anchor="end" fill="#000" stroke="#000" stroke-width="0.22" >0.00</text>
<rect x="85.95" y="348.3" width="13.4" height="18.5" fill="#000" stroke="none" stroke-width="1" />
<line x1="92.65" y1="345.2" x2="92.65" y2="348.3" stroke="#000" stroke-width="1" />
<path d="M90.85 344.60H94.45L92.65 346.80Z" fill="#000"/>
<rect x="118.45" y="328.1" width="13.4" height="38.69999999999999" fill="#000" stroke="none" stroke-width="1" />
<line x1="125.15" y1="326.0" x2="125.15" y2="328.1" stroke="#000" stroke-width="1" />
<path d="M123.35 325.40H126.95L125.15 327.60Z" fill="#000"/>
<polygon points="125.15,319.30 125.71,320.73 127.24,320.82 126.05,321.79 126.44,323.28 125.15,322.45 123.86,323.28 124.25,321.79 123.06,320.82 124.59,320.73" fill="#111"/>
<rect x="150.95000000000002" y="307.9" width="13.4" height="58.900000000000034" fill="#000" stroke="none" stroke-width="1" />
<line x1="157.65" y1="301.5" x2="157.65" y2="307.9" stroke="#000" stroke-width="1" />
<path d="M155.85 300.90H159.45L157.65 303.10Z" fill="#000"/>
<polygon points="157.65,296.20 158.21,297.63 159.74,297.72 158.55,298.69 158.94,300.18 157.65,299.35 156.36,300.18 156.75,298.69 155.56,297.72 157.09,297.63" fill="#111"/>
<rect x="183.45000000000002" y="293.3" width="13.4" height="73.5" fill="#000" stroke="none" stroke-width="1" />
<line x1="190.15" y1="279.4" x2="190.15" y2="293.3" stroke="#000" stroke-width="1" />
<path d="M188.35 278.80H191.95L190.15 281.00Z" fill="#000"/>
<polygon points="190.15,274.10 190.71,275.53 192.24,275.62 191.05,276.59 191.44,278.08 190.15,277.25 188.86,278.08 189.25,276.59 188.06,275.62 189.59,275.53" fill="#111"/>
<text x="83.8" y="380.0" font-family='"Liberation Serif", serif' font-size="8.6" font-weight="bold" text-anchor="start" fill="#000" stroke="#000" stroke-width="0.22" >WT-Δ</text>
<text x="120.0" y="380.0" font-family='"Liberation Serif", serif' font-size="8.6" font-weight="bold" text-anchor="start" fill="#000" stroke="#000" stroke-width="0.22" >R31C</text>
<text x="152.5" y="380.0" font-family='"Liberation Serif", serif' font-size="8.6" font-weight="bold" text-anchor="start" fill="#000" stroke="#000" stroke-width="0.22" >K43M</text>
<text x="186.3" y="380.0" font-family='"Liberation Serif", serif' font-size="8.6" font-weight="bold" text-anchor="start" fill="#000" stroke="#000" stroke-width="0.22" >DM</text>
<text transform="translate(43.8,322.5) rotate(-90)" font-family='"Liberation Serif", serif' font-size="10.5" font-weight="bold" stroke="#000" stroke-width="0.2" text-anchor="middle">(Annexin V<tspan font-size="6" dy="-3">+</tspan><tspan dy="3">%)</tspan></text>
<line x1="279" y1="44" x2="279" y2="377" stroke="#000" stroke-width="2" />
<path d="M279 38 L283.5 46.4 L274.5 46.4 Z" fill="#000"/>
<line x1="278" y1="376" x2="510" y2="376" stroke="#000" stroke-width="2" />
<path d="M517.5 376 L508.6 371.8 L508.6 380.2 Z" fill="#000"/>
<text x="396.0" y="388.7" font-family='"Liberation Sans", sans-serif' font-size="8.8" font-weight="bold" text-anchor="start" fill="#000" stroke="#000" stroke-width="0.22" >CD8</text>
<g transform="translate(0,0.5)" stroke="#000" stroke-width="1" fill="none"><path d="M333 43h1M351 57h1M352 58h1m1 0h4M307 59h1m45 0h7M350 60h10m1 0h2M348 61h15M346 62h17M346 63h18m6 0h1M344 64h1m1 0h16m1 0h2M343 65h21M296 66h1m1 0h1m46 0h18M302 67h1m41 0h20M344 68h20m22 0h1M343 69h20M342 70h21M342 71h20M341 72h21M340 73h20M321 74h1m15 0h1m3 0h1m1 0h16M323 75h1m9 0h1m2 0h1m2 0h20M324 76h1m3 0h1m5 0h1m3 0h19M321 77h1m7 0h1m2 0h1m2 0h1m1 0h17m1 0h2m2 0h1M309 78h1m14 0h1m5 0h1m6 0h14m1 0h2M315 79h1m2 0h2m3 0h1m2 0h1m3 0h1m2 0h3m2 0h10m1 0h1m1 0h1M317 80h1m8 0h1m1 0h2m2 0h1m2 0h10m1 0h3M314 81h1m5 0h2m1 0h4m1 0h1m1 0h1m3 0h3m1 0h2m1 0h8M305 82h1m4 0h1m3 0h1m2 0h3m1 0h3m3 0h5m1 0h6m1 0h7m2 0h1M308 83h1m3 0h1m1 0h1m2 0h3m4 0h1m1 0h1m2 0h6m2 0h8m1 0h1M310 84h2m4 0h1m2 0h2m3 0h2m2 0h3m1 0h1m2 0h1m1 0h1m1 0h6m1 0h2M297 85h1m15 0h1m7 0h2m1 0h3m2 0h8m1 0h3m4 0h1M295 86h1m1 0h1m6 0h1m4 0h1m2 0h1m1 0h2m1 0h1m1 0h2m1 0h2m2 0h1m2 0h1m1 0h4m1 0h5m1 0h1m1 0h3m1 0h1M296 87h2m10 0h1m1 0h1m4 0h2m3 0h2m1 0h1m1 0h1m1 0h1m1 0h7m1 0h4m2 0h1M293 88h1m2 0h1m9 0h1m3 0h1m2 0h2m1 0h5m1 0h2m2 0h7m3 0h5m1 0h2m6 0h1m6 0h1M295 89h2m2 0h2m4 0h2m11 0h1m1 0h1m2 0h1m2 0h7m1 0h5m3 0h2m2 0h1m2 0h1M293 90h5m2 0h1m1 0h2m4 0h1m8 0h1m2 0h1m2 0h3m1 0h8m1 0h5m1 0h2m5 0h1M292 91h14m6 0h1m1 0h1m1 0h1m1 0h3m1 0h4m1 0h6m1 0h4m3 0h1m1 0h1m1 0h2M292 92h3m2 0h4m1 0h5m3 0h1m6 0h1m2 0h1m3 0h3m1 0h6m1 0h2m1 0h4m2 0h1m1 0h1m18 0h1M292 93h1m1 0h6m2 0h3m1 0h1m1 0h1m4 0h1m1 0h1m1 0h3m2 0h2m1 0h2m2 0h6m1 0h1m1 0h3m1 0h1m1 0h2M292 94h8m1 0h10m4 0h2m1 0h1m2 0h3m1 0h1m1 0h3m1 0h10m1 0h1M292 95h13m1 0h1m4 0h1m6 0h1m1 0h5m2 0h6m1 0h2m3 0h1m1 0h1m1 0h1m2 0h1m3 0h1M292 96h20m1 0h1m4 0h1m1 0h1m1 0h1m1 0h1m1 0h3m1 0h2m1 0h1m1 0h2m2 0h2m2 0h1M292 97h18m2 0h1m2 0h2m1 0h5m1 0h11m1 0h1m1 0h1m2 0h1m1 0h1m2 0h1M292 98h21m1 0h1m1 0h1m1 0h1m2 0h6m1 0h1m1 0h5m2 0h7m2 0h1M292 99h17m1 0h2m1 0h3m1 0h2m1 0h1m1 0h1m1 0h13m1 0h1m1 0h2m7 0h1M292 100h17m1 0h3m1 0h2m2 0h4m1 0h7m1 0h2m3 0h1m1 0h1m2 0h1m2 0h1M292 101h20m1 0h1m1 0h2m3 0h2m2 0h2m1 0h1m1 0h5m1 0h3m3 0h1M292 102h21m1 0h2m2 0h1m1 0h7m3 0h1m4 0h3m3 0h1m7 0h1M292 103h23m4 0h5m2 0h1m1 0h1m2 0h3m1 0h1m3 0h1m3 0h1m3 0h1m1 0h1M292 104h23m1 0h3m4 0h4m1 0h1m1 0h2m1 0h1m10 0h1M292 105h22m1 0h7m1 0h2m1 0h1m2 0h6m1 0h1m2 0h1m2 0h1m3 0h1M292 106h27m1 0h4m1 0h2m1 0h4m3 0h1m2 0h1m1 0h3M292 107h24m1 0h1m1 0h6m1 0h1m3 0h2m2 0h2m3 0h1M292 108h21m1 0h4m1 0h4m3 0h3m1 0h6m3 0h2M292 109h26m2 0h2m2 0h4m1 0h2m2 0h4m2 0h1M292 110h38m5 0h2m3 0h1M292 111h36m1 0h2m1 0h2m1 0h1m3 0h1m2 0h1m3 0h2M292 112h26m1 0h12m1 0h1m2 0h1m3 0h1M292 113h33m1 0h2m2 0h1m2 0h1m3 0h1m2 0h1m2 0h1m22 0h1M292 114h30m1 0h4m2 0h2m1 0h2m1 0h1m2 0h1m1 0h1m1 0h1m5 0h1M292 115h27m1 0h3m2 0h6m2 0h2m1 0h1m2 0h2M292 116h31m1 0h5m1 0h2m1 0h1m3 0h1m7 0h1m3 0h1M292 117h40m1 0h1m1 0h1m2 0h2m11 0h1M292 118h27m1 0h3m1 0h3m1 0h1m3 0h1m3 0h1m2 0h1M292 119h28m1 0h7m1 0h1m2 0h1m1 0h3M292 120h30m1 0h1m1 0h8m1 0h3m2 0h1M292 121h26m1 0h6m1 0h7m1 0h1m4 0h1m4 0h1M292 122h31m1 0h2m4 0h2M292 123h27m2 0h6m1 0h1m1 0h1m1 0h1m1 0h1m3 0h1M292 124h35m1 0h1m1 0h1m1 0h1m3 0h1M292 125h31m1 0h1m1 0h4m6 0h1m3 0h1m19 0h1M292 126h31m3 0h1m1 0h3m4 0h1M292 127h35m2 0h2m2 0h1M292 128h27m1 0h1m2 0h2m1 0h1m1 0h2m1 0h2m7 0h1M292 129h29m3 0h1m1 0h2m8 0h1M292 130h32m1 0h2m6 0h1m26 0h1M292 131h29m2 0h1m2 0h1m4 0h1M292 132h27m1 0h2m1 0h1m1 0h3m3 0h1m2 0h1" stroke="#000"/><path d="M343 38h1M345 47h1M318 49h1M339 50h1M346 52h1M360 56h1M356 57h1m1 0h1M353 58h1m4 0h1m1 0h1M350 59h3m7 0h1M341 60h1m6 0h2m10 0h1M346 61h2M308 62h1m1 0h1m31 0h1m20 0h2M345 63h1M313 64h1m11 0h1m17 0h1m1 0h1m16 0h1M304 65h1m9 0h1m54 0h1M340 66h1m2 0h2m18 0h1M325 67h1m10 0h1m5 0h1m21 0h2M323 68h1m15 0h1m3 0h1m20 0h1M311 69h1m10 0h1m19 0h1M292 70h1m28 0h2m9 0h1m1 0h2M303 71h1m14 0h1m4 0h1m14 0h1m2 0h1m20 0h2M310 72h1m16 0h1m5 0h1m28 0h1M331 73h2m2 0h1m24 0h1M311 74h2m2 0h1m19 0h2m1 0h3m1 0h1m16 0h2M318 75h1m5 0h2m5 0h1m5 0h2m21 0h1M323 76h1m6 0h4m1 0h2m20 0h3M312 77h1m1 0h1m4 0h2m2 0h1m4 0h1m1 0h1m2 0h1m2 0h1M302 78h1m10 0h4m2 0h1m1 0h3m1 0h1m2 0h1m2 0h2m1 0h1m1 0h1m18 0h1m5 0h1M305 79h1m2 0h1m5 0h1m1 0h2m3 0h1m2 0h2m2 0h1m3 0h1m3 0h2m10 0h1m1 0h1m2 0h1M301 80h1m17 0h1m1 0h1m5 0h1m3 0h1m1 0h2m10 0h1m4 0h1m1 0h1M300 81h1m1 0h1m4 0h3m17 0h1m3 0h1m1 0h1m3 0h1m2 0h1m21 0h1M298 82h1m2 0h1m5 0h1m3 0h2m12 0h2m5 0h1m6 0h1m7 0h2m12 0h1M293 83h1m6 0h1m8 0h3m3 0h1m7 0h1m1 0h1m1 0h2m6 0h2m8 0h1m2 0h1m1 0h1M294 84h1m6 0h1m1 0h3m3 0h1m4 0h1m2 0h1m4 0h2m2 0h2m3 0h1m1 0h2m1 0h1m1 0h1m9 0h1m1 0h1M292 85h1m8 0h2m6 0h2m3 0h1m1 0h1m1 0h1m1 0h1m2 0h1m3 0h2m8 0h1m3 0h4m2 0h2m1 0h1M293 86h2m3 0h2m6 0h3m1 0h2m1 0h1m2 0h1m7 0h2m1 0h2m1 0h1m4 0h1m5 0h1m1 0h1M293 87h1m5 0h4m2 0h2m2 0h1m3 0h2m4 0h1m2 0h1m13 0h1m4 0h2m1 0h6m6 0h1m1 0h1M294 88h1m4 0h1m1 0h2m1 0h1m2 0h1m7 0h1m5 0h1m2 0h2m7 0h1m1 0h1m5 0h1m3 0h4M292 89h2m3 0h2m2 0h1m1 0h2m6 0h1m2 0h4m4 0h1m1 0h2m7 0h1m6 0h2m2 0h2m1 0h2m5 0h1M292 90h1m5 0h2m4 0h2m1 0h1m1 0h3m2 0h1m1 0h1m2 0h1m1 0h2m3 0h1m8 0h1m8 0h2m6 0h1M306 91h1m2 0h1m1 0h1m1 0h1m3 0h1m3 0h1m4 0h1m6 0h1m4 0h3m1 0h1m1 0h1m2 0h1m1 0h1M295 92h2m4 0h1m5 0h3m3 0h1m1 0h1m2 0h2m1 0h1m1 0h1m3 0h1m6 0h1m2 0h1m7 0h1m1 0h2m2 0h1M293 93h1m6 0h2m3 0h1m1 0h1m1 0h2m1 0h1m1 0h1m1 0h1m3 0h2m2 0h1m2 0h2m6 0h1m1 0h1m3 0h1m1 0h1m2 0h4M300 94h1m10 0h1m2 0h1m2 0h1m1 0h2m9 0h1m15 0h3m2 0h1M305 95h1m2 0h2m2 0h1m1 0h1m1 0h2m1 0h1m5 0h2m9 0h3m1 0h1m1 0h1m1 0h2m3 0h1M314 96h1m1 0h2m1 0h1m1 0h1m1 0h1m1 0h1m3 0h1m2 0h1m5 0h1m2 0h1m3 0h1m3 0h1M310 97h1m3 0h1m2 0h1m5 0h1m11 0h1m1 0h1m1 0h1m2 0h1M317 98h1m2 0h1m6 0h1m1 0h1m5 0h1m11 0h1M309 99h1m2 0h1m3 0h1m2 0h1m1 0h1m1 0h1m15 0h1m2 0h2m3 0h1M309 100h1m12 0h1m7 0h1m4 0h1m1 0h1m5 0h1m1 0h2m2 0h1m1 0h1M312 101h1m6 0h1m2 0h2m2 0h1m1 0h1m5 0h1m4 0h1m2 0h1m1 0h2m1 0h1m10 0h1M313 102h1m2 0h1m2 0h1m8 0h2m3 0h2m3 0h2m7 0h2M315 103h4m5 0h2m1 0h1m1 0h2m3 0h1m1 0h2m6 0h1m11 0h1M315 104h1m5 0h2m4 0h1m1 0h1m2 0h1m1 0h3m1 0h1m1 0h1m2 0h1m1 0h1m7 0h1m10 0h1M314 105h1m7 0h1m2 0h1m1 0h2m6 0h1m4 0h2m1 0h1m3 0h1M319 106h1m4 0h1m2 0h1m4 0h3m2 0h1m5 0h1m3 0h2m3 0h1M316 107h1m10 0h1m1 0h1m2 0h2m4 0h1m3 0h1M313 108h1m4 0h1m4 0h3m3 0h1m7 0h1m6 0h1M318 109h2m2 0h2m4 0h1m2 0h2m4 0h2m1 0h1m1 0h1m1 0h1m8 0h1m2 0h1m7 0h1m1 0h1M331 110h4m4 0h1m1 0h4M328 111h1m2 0h1m2 0h1m2 0h1m3 0h1m7 0h1M318 112h1m15 0h1m2 0h2m2 0h1m1 0h2m15 0h1M325 113h1m2 0h2m2 0h1m1 0h2m2 0h1m2 0h1m5 0h1m5 0h1M322 114h1m4 0h2m2 0h1m5 0h1m3 0h1m2 0h1m2 0h1M319 115h1m3 0h2m6 0h1m3 0h1m1 0h2m2 0h1M323 116h1m5 0h1m2 0h1m2 0h1m2 0h1m1 0h1m2 0h1m2 0h1m7 0h1m25 0h1M334 117h1m2 0h1m2 0h2m6 0h1m1 0h1m4 0h1m13 0h1M319 118h1m3 0h1m3 0h1m1 0h3m1 0h2m9 0h1M320 119h1m7 0h1m1 0h2m1 0h1m4 0h2m1 0h1m6 0h1M322 120h1m14 0h1m7 0h3M318 121h1m6 0h1m7 0h1m7 0h1m5 0h1m8 0h1M323 122h1m2 0h4m3 0h4m2 0h1m1 0h1m10 0h1m2 0h1M319 123h2m8 0h1m1 0h1m4 0h1m3 0h1M329 124h1m1 0h1m2 0h2m1 0h3m1 0h1m11 0h2M323 125h1m1 0h1m6 0h2m1 0h1m1 0h2m15 0h2M324 126h2m1 0h1m3 0h1m7 0h2m7 0h1m4 0h1m4 0h1M327 127h1m4 0h1m3 0h1m17 0h1M319 128h1m5 0h1m1 0h1m5 0h2m1 0h1m5 0h1m4 0h1m2 0h1m1 0h1M321 129h3m1 0h1m2 0h2m1 0h3M324 130h1m5 0h1m1 0h1m1 0h1m3 0h1m17 0h1M322 131h1m1 0h2m3 0h2m1 0h3M319 132h1m8 0h1m1 0h1m1 0h1m2 0h1m12 0h1" stroke="#333"/><path d="M340 37h1M331 50h1M319 53h1M340 54h1M352 56h1m5 0h1M327 57h1m24 0h2m5 0h2M301 58h1m23 0h1m8 0h1m16 0h1m7 0h1m2 0h1M349 59h1M322 60h1m24 0h1M306 61h1m30 0h1M325 62h1m17 0h1M334 63h1m29 0h1M305 64h1m10 0h1m6 0h1m18 0h1m22 0h1M308 65h1m8 0h2m8 0h2m35 0h2m2 0h1M313 66h1m4 0h1m2 0h1m17 0h1m24 0h1m8 0h1M297 67h1m8 0h1m24 0h1m7 0h1M295 68h1m6 0h1m6 0h1m2 0h1m6 0h2m1 0h1m4 0h1m4 0h1m3 0h1m28 0h1M299 69h2m7 0h1m3 0h1m3 0h1m15 0h1m4 0h1m25 0h1m1 0h1M297 70h2m6 0h1m2 0h1m5 0h1m2 0h2m6 0h2m1 0h1m8 0h2m2 0h1m21 0h1M306 71h1m4 0h1m1 0h1m11 0h1m1 0h2m3 0h1m2 0h1m3 0h2M305 72h1m8 0h1m6 0h1m12 0h2m32 0h1M293 73h1m3 0h2m4 0h1m8 0h1m2 0h1m2 0h1m2 0h1m1 0h1m10 0h1m1 0h4m21 0h2M293 74h1m1 0h1m4 0h1m6 0h1m5 0h1m8 0h3m1 0h1M294 75h1m1 0h1m2 0h1m2 0h2m11 0h1m3 0h1m1 0h2m3 0h1m1 0h3m28 0h1M299 76h1m2 0h1m4 0h3m3 0h1m2 0h2m3 0h2m2 0h2m2 0h1m7 0h1m31 0h1M298 77h1m1 0h1m6 0h1m3 0h1m3 0h2m37 0h1m2 0h1m12 0h1M301 78h1m1 0h1m2 0h1m20 0h1m1 0h1m3 0h1m1 0h1m15 0h1m2 0h1m1 0h2M294 79h1m14 0h3m8 0h1m8 0h1m1 0h1m20 0h1m1 0h2M292 80h3m3 0h2m6 0h1m1 0h3m2 0h2m7 0h3m5 0h1m18 0h1m3 0h2M306 81h1m3 0h3m2 0h2m1 0h1m3 0h1m26 0h2m1 0h1m4 0h1m7 0h1M296 82h2m5 0h1m9 0h1m2 0h1m3 0h1m3 0h1m25 0h1m3 0h1M295 83h4m5 0h1m8 0h1m2 0h1m4 0h2m24 0h1m3 0h2m2 0h1m10 0h1M296 84h2m1 0h2m6 0h1m5 0h1m31 0h1m3 0h1m1 0h1m2 0h2m9 0h1M294 85h1m3 0h1m4 0h1m4 0h1m6 0h1m1 0h1m28 0h1m2 0h1m1 0h1M300 86h3m15 0h1m2 0h1m28 0h1m7 0h1M292 87h1m1 0h1m8 0h2m6 0h1m5 0h2m5 0h1m1 0h1m1 0h1m21 0h2m3 0h1m7 0h1M292 88h1m4 0h2m1 0h1m2 0h1m4 0h2m24 0h1m9 0h1m7 0h2M294 89h1m7 0h1m16 0h1m1 0h1m29 0h2M301 90h1m4 0h1m6 0h1m1 0h1m2 0h1m22 0h1m4 0h1m10 0h1m4 0h1m1 0h1M307 91h2m6 0h1m34 0h2M311 92h1m2 0h1m1 0h1m5 0h1m20 0h1m13 0h1M311 93h1m38 0h1m8 0h1m2 0h1M313 94h1m10 0h1m1 0h1m14 0h1m1 0h3m4 0h1m1 0h1m2 0h1m3 0h1M307 95h1m2 0h1m2 0h1m1 0h1m17 0h1m13 0h2m7 0h1M312 96h1m2 0h1m18 0h1m2 0h1m6 0h1m1 0h1m3 0h1m17 0h1M311 97h1m28 0h1m3 0h2m1 0h2m12 0h1m2 0h1m1 0h1M315 98h1m3 0h1m16 0h1m7 0h1m3 0h1m2 0h2m5 0h2M337 99h1m6 0h1m1 0h1m5 0h1m1 0h1M313 100h1m2 0h2m15 0h2m5 0h1m9 0h1m7 0h1M317 101h1m20 0h1m1 0h1m2 0h1m4 0h1m7 0h1M327 102h1m3 0h2m9 0h3m1 0h1m3 0h1M340 103h3m5 0h1m1 0h2m7 0h1M320 104h1m16 0h1m1 0h1m2 0h1m3 0h1m2 0h1m2 0h1M338 105h1m6 0h1m10 0h1M336 106h1m8 0h2m8 0h1M318 107h1m6 0h1m2 0h1m7 0h2m2 0h2m2 0h2m1 0h2m2 0h1m3 0h1M336 108h1m4 0h3m1 0h2m1 0h2m1 0h1m1 0h2m1 0h2m3 0h1m1 0h1M341 109h1m4 0h1m1 0h1m5 0h1m7 0h1M330 110h1m6 0h2m6 0h1m5 0h2m2 0h1M336 111h1m3 0h1m2 0h2m15 0h1M331 112h1m1 0h1m6 0h1m1 0h1m2 0h1m1 0h1m1 0h3M331 113h1m7 0h1m5 0h1m3 0h2m9 0h1M334 114h1m1 0h1m9 0h1m2 0h1m10 0h1M342 115h2m5 0h1m6 0h1M334 116h1m1 0h1m2 0h1m1 0h1m13 0h1M336 117h1m7 0h1m2 0h1m5 0h1m3 0h1M335 118h1m1 0h2m1 0h1m4 0h2m1 0h3m1 0h1m3 0h1M337 119h1m2 0h1m1 0h1m1 0h3m4 0h1m1 0h2m3 0h1M324 120h1m17 0h3m4 0h2m3 0h1M335 121h4m3 0h2m1 0h1m2 0h1m1 0h1m2 0h1m7 0h1M337 122h1m2 0h1m1 0h1m1 0h1m1 0h1m12 0h1M327 123h1m5 0h1m3 0h1m1 0h1m2 0h2m2 0h1m2 0h2m21 0h1M342 124h3m3 0h2m1 0h1m3 0h1M330 125h2m2 0h1m6 0h3m1 0h2m1 0h2M323 126h1m8 0h1m1 0h1m2 0h1m4 0h1m3 0h1m7 0h1M331 127h1m2 0h2m3 0h1m2 0h1m9 0h1M321 128h2m7 0h1m4 0h1m1 0h1m7 0h1m2 0h1M330 129h1m3 0h2m1 0h1m2 0h1m1 0h1m5 0h1m4 0h1M327 130h1m1 0h1m1 0h1m7 0h1m7 0h1m9 0h1M321 131h1m5 0h2m11 0h1m1 0h2m10 0h2m8 0h1M322 132h1m1 0h1m8 0h1m3 0h1m18 0h1m2 0h1m5 0h1" stroke="#616161"/><path d="M326 50h1m38 0h1M363 55h1M353 56h1m3 0h1M296 57h1m57 0h2m1 0h1m3 0h1m3 0h1M328 58h1m21 0h1m13 0h1M320 59h1m27 0h1m12 0h1M299 60h1m3 0h1m27 0h1m11 0h1M309 61h1m31 0h1m21 0h2M304 62h1m34 0h1m4 0h1m20 0h1M301 63h1m13 0h1m6 0h1m7 0h1m2 0h1m10 0h1m20 0h1M336 64h1m30 0h1M332 65h1M315 66h1m20 0h1m5 0h1M298 67h1m6 0h1m22 0h2m4 0h1m8 0h1M307 68h2m1 0h1m20 0h1m1 0h2m6 0h2M301 69h1m13 0h1m7 0h2m6 0h1m2 0h1m1 0h1m27 0h1M309 70h2m5 0h1m6 0h1m5 0h1m9 0h1M293 71h1m7 0h1m6 0h1m10 0h1m1 0h2m8 0h1m4 0h1m27 0h1M296 72h1m2 0h1m15 0h1m1 0h3m2 0h1m2 0h1m10 0h1m1 0h1m1 0h1m23 0h1M300 73h2m2 0h1m1 0h1m1 0h1m2 0h1m5 0h1m1 0h2m3 0h3m2 0h2m2 0h1m29 0h1M298 74h2m8 0h1m5 0h1m1 0h1m1 0h1m1 0h1m4 0h1m3 0h1m2 0h1m1 0h1M300 75h1m5 0h2m2 0h5m1 0h2m9 0h1m4 0h1m1 0h2m26 0h1M296 76h1m8 0h1m5 0h1m2 0h1m5 0h1m6 0h1m32 0h1M296 77h1m2 0h1m1 0h2m5 0h2m3 0h1m4 0h1m3 0h1m2 0h3m3 0h1m2 0h1M293 78h1m1 0h1m9 0h1m2 0h1m8 0h1m8 0h1m31 0h2M304 79h1m2 0h1m19 0h1m28 0h1m1 0h1m2 0h2m10 0h1M300 80h1m1 0h1m4 0h1m4 0h1m2 0h2m1 0h1m1 0h1M295 81h2m2 0h1m4 0h2m7 0h1m3 0h1m1 0h1m9 0h1m2 0h1m18 0h1m2 0h2m15 0h1M299 82h2m3 0h1m1 0h1m1 0h1m6 0h1m35 0h3m3 0h1m8 0h1M301 83h1m3 0h2m13 0h1m33 0h1M292 84h1m2 0h1m2 0h1m3 0h1m3 0h1m8 0h1m2 0h1m2 0h1m30 0h2m10 0h1m2 0h1M295 85h1m3 0h1m4 0h2m1 0h1m3 0h1m42 0h1M296 86h1m6 0h1m43 0h1m1 0h1m1 0h3m9 0h1M298 87h1m13 0h1m39 0h2M295 88h1m15 0h1m39 0h1m9 0h1M309 89h1m2 0h2m25 0h1m10 0h1m2 0h1m3 0h1m5 0h1M312 90h1m34 0h2m1 0h2m2 0h1M310 91h1m42 0h2m1 0h1M312 92h1m29 0h1m9 0h3m6 0h1M351 93h2m2 0h1M312 94h1m40 0h1m2 0h1m8 0h1M351 95h2m6 0h1M342 96h1m8 0h1m6 0h1m2 0h1M313 97h1m35 0h2m1 0h1m3 0h2M345 98h1m4 0h1m2 0h3M345 99h1m4 0h1m14 0h1M347 100h2m3 0h3m12 0h1M314 101h1m3 0h1m27 0h1m2 0h1m1 0h2m14 0h1M345 102h1m6 0h1m2 0h1m4 0h1m1 0h1M338 103h1m6 0h1m7 0h3m11 0h1M341 104h1m6 0h1m1 0h2M337 105h1m10 0h6m3 0h1M339 106h1m13 0h2m1 0h2m3 0h1M349 107h1m2 0h1m1 0h1m1 0h1M338 108h1m8 0h1m4 0h1m6 0h1M345 109h1m4 0h2M347 110h1m1 0h2m7 0h1m23 0h1M345 111h1m2 0h1m1 0h1m3 0h1M336 112h1m11 0h1m5 0h1m7 0h1M344 113h1m3 0h1m2 0h1m7 0h1M339 114h1m3 0h1m8 0h1m2 0h2m2 0h1M332 115h1m14 0h2m1 0h1M342 116h1m1 0h1m2 0h2m1 0h2m6 0h1m12 0h1M332 117h1m10 0h1m2 0h1m2 0h1m2 0h1m17 0h1M341 118h3m10 0h2m2 0h1M343 119h1m3 0h1m1 0h2m6 0h1m4 0h1M333 120h1m4 0h1m1 0h1m10 0h3m3 0h1m4 0h1M340 121h1m14 0h1m1 0h1M343 122h1m1 0h1m2 0h2m1 0h1m5 0h1M341 123h1m2 0h2m2 0h1m2 0h1m4 0h1m6 0h1M327 124h1m17 0h3m2 0h1m8 0h1M339 125h1m4 0h1m5 0h1m1 0h1m3 0h1M333 126h1m2 0h1m1 0h1m4 0h2m2 0h1m2 0h1m4 0h1m1 0h1M328 127h1m8 0h1m5 0h3m2 0h1m1 0h1M338 128h2m4 0h1m8 0h1m1 0h1m28 0h1M338 129h2m1 0h1m1 0h1m12 0h1M328 130h1m7 0h1m3 0h3m1 0h1m1 0h1m1 0h1m1 0h1m4 0h1M338 131h1m2 0h1m2 0h1m2 0h1m5 0h1M329 132h1m6 0h1m2 0h1m4 0h2" stroke="#8a8a8a"/><path d="M382 40h1M318 45h1M334 46h1M334 47h1M350 49h1M309 53h1m76 0h1M355 54h1M356 56h1M311 57h1m16 0h1m33 0h1M348 58h2m11 0h1M362 59h1M311 60h1m15 0h1m35 0h1M314 61h1m7 0h1m22 0h1M313 62h1m31 0h1M319 63h1m23 0h1m23 0h1M310 65h1m4 0h1m13 0h1M311 66h1m12 0h1m7 0h1m1 0h1M293 67h1m7 0h1m5 0h1m15 0h1m11 0h1m5 0h1M324 68h1m1 0h1m13 0h1M309 69h1m8 0h1m6 0h1m1 0h1m1 0h1m9 0h2M304 70h1m8 0h1m5 0h1m16 0h1m27 0h2M294 71h1m7 0h1m2 0h1m14 0h1m5 0h1m2 0h1m3 0h2M300 72h1m3 0h1m1 0h2m3 0h2m3 0h1m7 0h1m1 0h1m2 0h2m1 0h1m4 0h1m1 0h1m23 0h1M299 73h1m9 0h1m3 0h2m7 0h1m4 0h1M303 74h4m2 0h2m6 0h1m1 0h1m7 0h2m1 0h1m2 0h1m27 0h2M295 75h1m2 0h1m9 0h2m10 0h1m40 0h1m1 0h1M292 76h1m1 0h1m2 0h2m2 0h1m1 0h1m6 0h1m7 0h1m42 0h1M303 77h1m1 0h1m4 0h1m6 0h1m6 0h1M298 78h3m3 0h1m5 0h3m5 0h1m1 0h1M298 79h2m2 0h2m2 0h1m5 0h2m8 0h1m34 0h1M297 80h1m5 0h2m6 0h1m13 0h1m25 0h1m5 0h1m1 0h1m5 0h1M301 81h1m1 0h1m49 0h1m2 0h1M292 82h3m60 0h1M292 83h1m1 0h1m4 0h1m2 0h2m3 0h1M293 84h1m14 0h1m3 0h1m43 0h1M293 85h1m2 0h1m3 0h1m5 0h1m5 0h1m6 0h1m32 0h1m2 0h1m2 0h1m3 0h1M292 86h1m12 0h1m54 0h1M295 87h1M305 88h1m6 0h1m41 0h1M307 89h2m46 0h1M353 90h1m1 0h1m16 0h1m3 0h1M348 91h1m6 0h1m2 0h1m14 0h1M349 92h2m8 0h1M353 93h2m1 0h1M349 94h1m4 0h1M353 95h2m2 0h1m10 0h1M347 96h1m4 0h1m2 0h1M360 97h1M313 98h1m35 0h1M348 99h1m2 0h1m3 0h1m6 0h1M339 100h1m2 0h1m14 0h1m3 0h1M350 101h1m3 0h2M317 102h1m22 0h1m10 0h1m1 0h1m2 0h1M319 104h1m27 0h1m7 0h1m5 0h1M344 105h1m9 0h1M344 106h1m4 0h1m1 0h1M343 107h1m2 0h1m3 0h1m2 0h1m7 0h1M350 108h1m4 0h1m4 0h1m3 0h1M343 109h1m5 0h1m2 0h1m2 0h1M346 110h1m1 0h1m4 0h1M338 111h1m13 0h2m2 0h1m12 0h1M352 112h1m4 0h1M336 113h1m5 0h1m3 0h1m7 0h1m2 0h1M345 114h1m4 0h1m2 0h1m14 0h1M344 115h3m6 0h1m1 0h1M352 116h2m8 0h1M342 117h1m2 0h1m12 0h1m4 0h1m13 0h1M347 118h1m3 0h1m1 0h1M352 119h1m2 0h1M348 120h1m12 0h1M346 121h1m2 0h1m1 0h1m6 0h1m6 0h1M332 122h1m14 0h1m2 0h1m2 0h2m5 0h1M335 123h1m11 0h1m11 0h1M333 124h1m6 0h1m11 0h1m3 0h1m1 0h1m5 0h1M347 125h1m5 0h1M341 126h1m3 0h1m3 0h1m1 0h2M338 127h1m2 0h1m4 0h2m5 0h1m2 0h1M341 128h1m1 0h1m2 0h1m4 0h1m9 0h1M344 129h1m4 0h2m1 0h1m1 0h1m8 0h1M337 130h1m5 0h1m1 0h1m5 0h1M335 131h3m1 0h1m6 0h1m3 0h1M338 132h1m2 0h2m3 0h1m3 0h2m1 0h1m3 0h1" stroke="#adadad"/><path d="M436 62h1m26 0h3M462 63h1m1 0h2m5 0h1M460 64h1m1 0h5M462 65h5m1 0h1M461 66h2m1 0h3M446 78h1M481 87h1M458 89h1M416 92h1M425 95h1M439 97h1M415 100h1m21 0h1m3 0h1m17 0h1M410 104h1m3 0h1m16 0h1m18 0h1M407 105h1m1 0h2m3 0h1M405 106h1m4 0h2m2 0h2m2 0h1M401 107h1m2 0h1m1 0h2m1 0h2m1 0h3m2 0h2m44 0h1M401 108h3m1 0h11m1 0h2M401 109h2m1 0h8m2 0h5M399 110h1m1 0h20m1 0h1m24 0h1M399 111h18m1 0h3m1 0h1M398 112h24m2 0h1M398 113h26M398 114h27M398 115h28M398 116h27M398 117h28m8 0h1M398 118h27m1 0h1m23 0h1M398 119h26m11 0h1M398 120h27m1 0h1M398 121h28M398 122h28m32 0h1M398 123h27m1 0h1m1 0h1M398 124h29m1 0h1M398 125h26m1 0h2M398 126h28M398 127h28M398 128h28M398 129h25m1 0h3m23 0h1M398 130h25m1 0h1M398 131h25m1 0h2" stroke="#000"/><path d="M458 57h1M459 58h1m12 0h1M460 60h1m3 0h1m2 0h1M455 61h1M457 62h1m1 0h1m2 0h1m3 0h1M460 63h2m1 0h1m2 0h1M461 64h1m5 0h1M461 65h1M463 66h1M455 67h1m5 0h2m2 0h1M464 68h1M475 69h1M463 70h2M467 72h1M458 73h1M450 75h1M403 80h1M443 83h1m25 0h1M462 84h1M461 85h1M410 87h1m35 0h1m17 0h1M401 88h1M447 89h1M429 91h1M413 93h1m25 0h1M411 94h1M462 95h1M417 97h1M418 98h1M422 99h1m3 0h1M426 100h1M420 101h1m2 0h1M413 102h2m11 0h1m12 0h1M401 104h1m1 0h1m3 0h1m16 0h1m4 0h1M411 105h1m1 0h1M400 106h1m2 0h1m2 0h2m1 0h1m2 0h1m3 0h1m6 0h1m4 0h1m26 0h1M398 107h1m3 0h2m1 0h1m2 0h1m2 0h1m3 0h2m2 0h2m21 0h1m5 0h1M399 108h2m3 0h1m11 0h1m3 0h1m8 0h1M400 109h1m2 0h1m8 0h2m7 0h1m5 0h1m25 0h1M400 110h1m20 0h1m1 0h1m4 0h1m16 0h1m4 0h1m2 0h1M398 111h1m18 0h1m3 0h1m23 0h1M422 112h1m25 0h1M424 113h2m3 0h1M456 114h1M431 115h1m14 0h1M425 116h1m3 0h1M426 117h1m1 0h1m21 0h1M425 118h1m2 0h1m10 0h1M424 119h3m3 0h1M425 120h1m4 0h1M426 121h2m2 0h1m1 0h1M426 122h2m9 0h1M425 123h1m1 0h1m5 0h1M427 124h1M424 125h1m2 0h1M426 127h1m25 0h1M427 128h1M423 129h1m3 0h1m25 0h1M423 130h1m1 0h1M423 131h1m8 0h1" stroke="#333"/><path d="M437 43h1M447 56h1M457 57h1M463 58h1M454 59h1M458 60h2m3 0h1M445 61h1m2 0h1m9 0h1m3 0h1m1 0h1M422 62h1m32 0h1m5 0h1M467 63h2M459 64h1m8 0h1M403 65h1m53 0h1m2 0h1M450 66h1m7 0h1m1 0h1m6 0h1M445 67h1m10 0h1m2 0h1m4 0h1M459 68h2m2 0h1M441 69h1m18 0h1M464 71h1M447 72h1M421 73h1m27 0h1M440 74h1m2 0h1m5 0h2M448 75h1M452 76h1M445 79h1M415 80h1m46 0h1M428 82h1m24 0h1m3 0h1M447 84h1m12 0h1M460 85h1M412 86h1m16 0h1m22 0h1M456 88h1M400 89h1M415 90h1M439 91h1M414 92h1m2 0h1m40 0h1m2 0h1M455 94h1M435 95h1M413 96h1M407 97h1m3 0h1m21 0h1m10 0h1m16 0h1M441 98h1m1 0h1m3 0h1M413 99h1m26 0h1m3 0h1m14 0h1M414 100h1m2 0h1m5 0h1m39 0h1M412 101h1m5 0h2M404 102h1m1 0h1m30 0h1m7 0h1M402 103h1m1 0h1m9 0h1m10 0h2m2 0h1M404 104h1m3 0h2m2 0h2m2 0h1m3 0h3M402 105h2m1 0h1m2 0h1m6 0h3m5 0h1m4 0h1m23 0h1M401 106h1m6 0h1m13 0h1m7 0h1M422 107h1m7 0h1M419 108h1m1 0h2m3 0h1M399 109h1m19 0h2m5 0h1m3 0h1m6 0h1m8 0h1M398 110h1m26 0h1M423 111h1m19 0h1M445 112h1M451 113h1M425 114h1m4 0h1m10 0h1m8 0h1M426 115h3M430 116h1m7 0h1m21 0h1M427 117h1m1 0h1m6 0h1m14 0h1M427 118h1m29 0h1M431 119h1M433 120h1m21 0h1M439 121h1m7 0h1m17 0h1M438 122h1M434 125h1M426 126h2M427 127h1m17 0h1M426 128h1M444 129h1M430 130h1M442 131h1" stroke="#616161"/><path d="M448 53h1M454 54h1M401 58h1M422 59h1m9 0h1M461 60h1m3 0h2m1 0h1M460 61h2m1 0h1m1 0h1m2 0h1M458 62h1m1 0h1m6 0h2M459 63h1M433 64h1m18 0h1m1 0h1M429 65h1m21 0h1m3 0h1M454 66h1m14 0h1M454 67h1m2 0h2m1 0h1m2 0h1M443 68h1m8 0h1m8 0h2m3 0h1m1 0h1M406 69h1m52 0h1M447 70h1m8 0h1m1 0h2M454 71h2m7 0h1M448 72h1m6 0h1m12 0h1M436 75h1M405 76h1M456 77h1m1 0h1M451 78h1m13 0h1m1 0h1M409 79h1M462 81h1M404 82h1m55 0h1M398 83h1M453 84h1M410 85h1m5 0h1m35 0h1M410 86h1m47 0h1m11 0h1M440 87h1m10 0h2m1 0h1M433 88h1m16 0h1M461 89h1M444 90h1m8 0h1m1 0h1M457 92h1m11 0h1M418 93h1m26 0h1M400 94h1m18 0h1m12 0h1m2 0h1m10 0h1m7 0h1m1 0h1M401 95h1m12 0h1m14 0h1m9 0h1M416 96h1m25 0h1m8 0h1m18 0h1M404 97h1m15 0h1m13 0h1M405 98h1m3 0h1m19 0h1m20 0h1m12 0h1M405 99h1m2 0h1m1 0h2m2 0h1m4 0h1m18 0h1M405 100h1m1 0h1m2 0h1m1 0h1m26 0h1M400 101h1m7 0h2m5 0h1m18 0h1M408 102h1m3 0h1m2 0h2m1 0h2m18 0h1m2 0h1m7 0h1M401 103h1m3 0h1m1 0h1m4 0h1m9 0h1m5 0h1m20 0h1M402 104h1m2 0h2m10 0h1m8 0h1M404 105h1m1 0h1m11 0h4m2 0h1m15 0h2m8 0h1M399 106h1m2 0h1m1 0h1m8 0h1m3 0h1m1 0h3m16 0h1m13 0h1M423 107h1m5 0h1m6 0h1m19 0h1M398 108h1m24 0h1m1 0h1m8 0h1m8 0h1m2 0h1m2 0h1M422 109h1m1 0h1m3 0h2M424 110h1m14 0h1m6 0h1M424 111h2m2 0h1m10 0h1m6 0h1m1 0h1M423 112h1M426 113h1m14 0h2m4 0h1M426 114h2m15 0h1m4 0h1M429 115h1m29 0h1M428 116h1m19 0h1m6 0h1m1 0h1M453 117h1M451 118h1M427 120h3m9 0h1m13 0h1M428 121h1m4 0h1m9 0h1M429 122h1M438 123h1M429 124h1m2 0h1M429 125h1m1 0h1M435 126h1M428 128h2m17 0h1m17 0h1M426 130h3M428 131h2" stroke="#8a8a8a"/><path d="M457 55h1m8 0h1M470 56h1M435 58h1M460 59h1m1 0h1M450 60h1M459 61h1m6 0h1M454 62h1M454 63h1M446 64h2M450 65h1m8 0h1M443 66h1m12 0h1m2 0h1M466 67h2M455 68h1m9 0h1M461 69h3M455 70h1M448 71h1m10 0h1m1 0h1M431 72h1m22 0h1m7 0h1M445 73h1m2 0h1M452 74h1m2 0h1m5 0h2M462 75h1M445 76h1M457 77h1M461 78h1M460 79h1M427 80h1m35 0h1M422 81h1M456 82h1m2 0h1M412 83h1m13 0h1m44 0h1M444 84h1M413 85h1m36 0h1m4 0h1m9 0h1M431 86h1M413 87h1m18 0h1M436 89h1m20 0h1m10 0h1M435 90h1m2 0h1m4 0h1M437 93h1m13 0h1M410 94h1m2 0h1m53 0h1M408 96h1m41 0h1M436 97h1M415 98h1m10 0h1m21 0h1M400 99h1m8 0h1m2 0h1m2 0h1m1 0h1m6 0h1m18 0h1M399 100h1m11 0h1m1 0h1m7 0h2m1 0h1m9 0h1M405 101h1m10 0h1m4 0h1m4 0h1m13 0h1m2 0h1m10 0h1M402 102h1m4 0h1m2 0h2m55 0h1M409 103h3m1 0h1m1 0h2m1 0h1m25 0h1M399 104h2m14 0h1m25 0h1M399 105h3m10 0h1m9 0h1m2 0h1m1 0h1m2 0h1m17 0h1M398 106h1m27 0h2m12 0h1M399 107h2m20 0h1M440 108h1m1 0h1M398 109h1m24 0h1M426 110h1m9 0h1m4 0h1M426 111h1m8 0h1m2 0h1M425 112h1m17 0h1m14 0h1M428 113h1m14 0h1M430 115h1m16 0h1m7 0h2M426 116h2m12 0h1M443 118h1m10 0h1M427 119h2m7 0h1M442 120h1m5 0h1m9 0h1M429 121h1m11 0h1m3 0h1M428 122h1m16 0h1m5 0h1M429 123h1M428 125h1m1 0h1M428 126h2m17 0h1M428 127h2m8 0h1M440 128h1M428 129h1m4 0h1m31 0h1M455 130h1M426 131h2m2 0h1m16 0h1" stroke="#adadad"/><path d="M348 170h1M341 174h1m4 0h1m1 0h1m1 0h1m12 0h1M346 175h1m2 0h2M345 176h2m1 0h4M345 177h5m2 0h2M346 178h7M345 179h8M343 180h12M344 181h11M338 182h1m2 0h1m1 0h2m1 0h9M344 183h9m1 0h1M342 184h1m1 0h9M344 185h1m1 0h4m1 0h2M343 186h1m2 0h4m1 0h1M314 187h1m29 0h1m2 0h1M335 188h1m5 0h1m3 0h1m1 0h2M344 189h1M347 190h1M316 192h1M361 209h1M307 211h1M304 213h1m46 0h1M345 214h1M330 215h1M328 217h1M292 222h2m3 0h1m1 0h1M291 223h1m2 0h2m4 0h3M290 224h3m1 0h6m2 0h1m24 0h1M291 225h3m1 0h1m1 0h2m3 0h1m33 0h1m16 0h1M290 226h5m1 0h7M290 227h8m1 0h4m1 0h2M290 228h11m3 0h2M290 229h16M290 230h16m1 0h1m1 0h1m44 0h1M290 231h18M290 232h18M290 233h20M290 234h19M290 235h19m1 0h1M290 236h20M290 237h18m2 0h1M290 238h19m1 0h1M290 239h22M290 240h23M290 241h22M290 242h20m1 0h1M290 243h20M290 244h19m1 0h2M290 245h22m6 0h1M290 246h19m2 0h1M290 247h21" stroke="#000"/><path d="M355 173h1M347 174h1M344 175h2m2 0h1m3 0h1m1 0h1M342 176h2m3 0h1m4 0h2m2 0h1M343 177h2m5 0h2M331 178h1m12 0h2m8 0h1M323 179h1m16 0h1m2 0h2m8 0h3M341 180h2M342 181h2m11 0h1M320 182h1m24 0h1M342 183h2m9 0h1M335 184h1m17 0h1m1 0h1M310 185h1m32 0h1m1 0h1m4 0h1m2 0h1M344 186h2m4 0h1m5 0h1M330 187h1m7 0h1m6 0h1m2 0h4M324 188h1m17 0h3m4 0h1M319 189h1m14 0h1m2 0h1m7 0h3M329 190h1m8 0h1m4 0h1m1 0h2m2 0h1M316 191h1m29 0h1M319 192h1m15 0h1m8 0h2m2 0h1M312 193h1m20 0h1m11 0h1m1 0h1M318 194h1m25 0h1m14 0h1M336 195h1m7 0h1M309 196h1m45 0h1m2 0h1m10 0h1M322 197h1m22 0h1M317 198h1M347 199h1M321 200h1m3 0h1m11 0h1m2 0h1M323 201h1M303 202h1M301 203h1M354 204h1M325 205h1m9 0h1m2 0h1m3 0h1M321 206h1m4 0h1M330 207h1m3 0h1m7 0h1M355 208h1M300 209h1m13 0h1M296 210h1M336 211h1M321 212h1m26 0h1M296 213h1m8 0h1M350 214h1M337 216h1M294 217h3m28 0h1M300 218h1m4 0h1M311 219h1m10 0h1m17 0h1M309 220h1m35 0h1M291 221h2m4 0h1m20 0h1m8 0h1m15 0h1m1 0h1M294 222h2m2 0h1m1 0h1m1 0h1m6 0h1m4 0h1M293 223h1m2 0h3m6 0h1m7 0h1m7 0h1m11 0h1m8 0h1M293 224h1m6 0h2m13 0h1M290 225h1m3 0h1m1 0h1m2 0h1m1 0h1m3 0h1m10 0h1m28 0h1M295 226h1m8 0h1m1 0h1m23 0h2M298 227h1m4 0h1m2 0h1m2 0h1m46 0h1M301 228h3m2 0h2m1 0h1m1 0h1m16 0h1m6 0h1M311 229h1m1 0h1m10 0h1m14 0h1M306 230h1M308 231h1m3 0h1m2 0h1M309 232h1m3 0h1m23 0h1M312 233h1m9 0h1m14 0h1m1 0h1M309 234h3M309 235h1m13 0h1M311 236h2m27 0h1M308 237h1m2 0h1m27 0h1M309 238h1m1 0h2M325 239h1m9 0h1M316 240h1m5 0h1M312 241h2M310 242h1m13 0h1M310 243h2m6 0h1M309 244h1M312 245h1m6 0h1M309 246h2m1 0h1m2 0h1M312 247h1" stroke="#333"/><path d="M347 159h1M357 169h1M341 171h1m14 0h1M337 172h1m8 0h3M341 173h1m4 0h1m1 0h1m2 0h1M342 174h1m8 0h1M347 175h1m3 0h1m1 0h1M354 176h1M354 177h1M338 178h2m1 0h1m11 0h1m1 0h1M326 179h1m14 0h2M318 180h1m16 0h1m20 0h2m1 0h1M338 181h1m17 0h1M311 182h1m30 0h1M318 183h1m1 0h1m19 0h1m14 0h1M320 184h1m20 0h1m1 0h1m12 0h1M341 185h2m11 0h1m1 0h1M313 186h1m17 0h1m3 0h1m3 0h1m12 0h1M339 187h1m1 0h2m10 0h1M312 188h1m33 0h1m3 0h2m1 0h1m4 0h1M313 189h1m24 0h1m3 0h1m5 0h1M324 190h1m1 0h1m8 0h1m5 0h1m8 0h1M303 191h1m1 0h1m17 0h1m1 0h2m15 0h2m3 0h1m1 0h1m2 0h1m3 0h1M306 192h1m14 0h1m2 0h1m17 0h2m2 0h2m2 0h1M323 193h1m16 0h1m1 0h1m1 0h1m7 0h1M340 194h1m1 0h1m2 0h3M341 195h3m2 0h1m3 0h1M330 196h1m10 0h1m2 0h2m18 0h1M315 197h1m4 0h1m8 0h1m9 0h2m3 0h1m5 0h1M345 198h1m10 0h1M324 199h1m2 0h1m13 0h1m4 0h1m10 0h1M306 200h1m23 0h1m3 0h1m8 0h1m1 0h1m5 0h1M339 201h1m5 0h1M327 202h1M349 203h1M304 204h1M292 205h1m11 0h1m23 0h1m17 0h1m4 0h1M306 207h1m22 0h1m2 0h1M321 208h1m1 0h1m1 0h1M313 209h1m16 0h1m12 0h1M292 210h1m21 0h1m7 0h1m11 0h1M309 211h1m4 0h1m3 0h1m10 0h1M322 212h1m5 0h1m3 0h1m3 0h1M300 213h1m5 0h1m13 0h1m20 0h1m13 0h1M296 214h1m2 0h1m5 0h1m4 0h2m3 0h2M292 215h1m1 0h1m7 0h2m9 0h1m1 0h1m20 0h1m9 0h1M290 216h2m12 0h1m3 0h1m10 0h1m21 0h1m5 0h1M292 217h1m5 0h1m5 0h1m9 0h1M296 218h1m9 0h1m11 0h1m4 0h1M295 219h1m3 0h2m5 0h1m12 0h1M290 220h4m2 0h2m9 0h1m4 0h1m4 0h1M290 221h1m10 0h1m1 0h1m1 0h1m23 0h1m9 0h1M290 222h1m5 0h1m7 0h2m32 0h3M290 223h1m8 0h1m4 0h1m3 0h1M304 224h1m1 0h1M300 225h1m5 0h2m2 0h2m2 0h1m11 0h1M303 226h1m1 0h1m1 0h1m1 0h2m3 0h2m16 0h1M307 227h2m12 0h1m32 0h1M308 228h1m1 0h1m2 0h1m11 0h1m3 0h2m12 0h1M307 229h2m16 0h1m15 0h1M308 230h1m10 0h1m4 0h1M309 231h2m2 0h1m8 0h1m12 0h1m6 0h2M308 232h1m1 0h1m1 0h1m3 0h1m8 0h1m3 0h1m4 0h1m11 0h1M310 233h1m4 0h1m1 0h1M312 234h1m23 0h1M311 235h1m1 0h2m3 0h1m7 0h1M310 236h1m20 0h1m5 0h1M309 237h1m2 0h1m25 0h1M345 238h1M312 239h1m2 0h1m4 0h1m20 0h1m10 0h1M313 240h2m18 0h1M339 241h1M313 242h1m3 0h1M312 243h1m19 0h1M312 244h1m4 0h1M316 245h1M322 246h1M311 247h1" stroke="#616161"/><path d="M337 154h1M325 161h1M349 166h1M341 167h1M358 168h1M347 169h1m4 0h1M340 173h1m4 0h1m3 0h1M344 174h2M310 175h1M344 176h1M342 177h1m16 0h1M340 178h1m1 0h1m13 0h1M356 179h1M331 180h1m4 0h1m2 0h1m15 0h1M321 181h1m17 0h3M318 182h1m36 0h3M337 183h1m1 0h1m21 0h1M310 184h1m23 0h1m19 0h1m9 0h1M314 185h1m6 0h1M323 186h1m29 0h1M324 187h1m12 0h1m2 0h1m5 0h1M308 188h1m12 0h1m18 0h1m11 0h1M311 189h1m13 0h1m3 0h1m9 0h1m1 0h1m1 0h1m5 0h1m1 0h1M339 190h2m3 0h1m3 0h1m2 0h1M319 191h1m19 0h1m1 0h1m3 0h1m2 0h1m1 0h1m2 0h1M338 192h1m1 0h2m7 0h1M320 193h1m11 0h1m6 0h1m3 0h1m2 0h1m2 0h1M320 194h1m7 0h1m19 0h1m5 0h1M324 195h1m2 0h1m12 0h1m4 0h1m2 0h2M339 196h1m3 0h1M330 197h1m10 0h2m4 0h2m5 0h1M327 198h1m11 0h2m2 0h2m4 0h2M337 199h1m6 0h1M313 200h1m10 0h1m10 0h1M329 201h1m16 0h1M320 202h1m1 0h1m13 0h1m1 0h1m12 0h1m4 0h1M327 203h1m11 0h1m7 0h1m3 0h1M320 204h1M340 205h1m3 0h1M350 206h1m5 0h1M302 207h1m16 0h1M306 208h1m34 0h1m3 0h1M290 209h1m18 0h1m28 0h1M312 210h1M296 211h1m28 0h1M319 212h1m24 0h1m1 0h1m4 0h1M292 213h1m39 0h1m6 0h1M304 214h1m25 0h1M300 215h1m8 0h1m9 0h1m17 0h1m6 0h1M295 216h1m2 0h1m22 0h1M297 217h1m1 0h1m1 0h1m3 0h1m12 0h1m5 0h1m11 0h1m5 0h1m10 0h1M290 218h1m3 0h1m2 0h2m2 0h3m7 0h1m7 0h1m5 0h1m3 0h2m5 0h1m2 0h1M291 219h1m2 0h1m1 0h3m3 0h1m2 0h1m3 0h1m3 0h1m1 0h2m15 0h1m2 0h1m2 0h1M294 220h2m4 0h1m5 0h1m1 0h1m11 0h1m12 0h1M294 221h1m1 0h1m1 0h3m1 0h1m9 0h1m4 0h1m2 0h1m10 0h1M291 222h1m11 0h1m2 0h1m15 0h1M292 223h1m10 0h1m5 0h1m2 0h1m2 0h1m7 0h1M303 224h1m4 0h1m4 0h1m7 0h1m8 0h1m24 0h1M303 225h2m7 0h1m14 0h2m11 0h1M311 226h1m26 0h1m1 0h1m4 0h1M327 227h1M314 228h1m1 0h2m19 0h1m3 0h1m8 0h1M306 229h1m5 0h1m4 0h1M311 230h1m11 0h1m11 0h1m5 0h1m2 0h2m2 0h1M326 231h1m4 0h1M311 232h1m5 0h1m8 0h1M311 233h1m21 0h1m14 0h2M313 234h2m1 0h1m7 0h1m3 0h1m11 0h1M312 235h1m21 0h1m8 0h1M313 236h1m5 0h1m6 0h1m15 0h1M316 237h1M314 238h1m7 0h2m12 0h1M313 239h1M317 240h1m9 0h1m14 0h1M318 241h1M312 242h1m24 0h1M313 243h2M314 244h1M337 245h1m9 0h1M316 246h1M313 247h1m12 0h1" stroke="#8a8a8a"/><path d="M348 165h1M328 170h1m20 0h1M345 172h1m3 0h1M344 173h1m9 0h1M319 174h1m20 0h1m11 0h2M340 175h1m2 0h1M306 176h1M341 177h1M343 178h1M309 179h1m19 0h1M335 181h1m21 0h1M335 182h3m2 0h1M336 183h1m4 0h1M337 184h1m1 0h2M320 185h1m1 0h1m13 0h1M327 186h2m12 0h2m12 0h1M305 187h1m15 0h1m21 0h1m8 0h1M338 188h1M316 189h1m5 0h1m1 0h1m7 0h1m7 0h1m9 0h1m3 0h1M290 190h1m18 0h1m32 0h1M314 191h1m22 0h2m1 0h1m3 0h1m12 0h1M353 192h1M326 193h1m14 0h1m6 0h1M299 194h1m33 0h1m7 0h1m1 0h1M311 195h1m8 0h1m26 0h1M310 196h1m20 0h1m5 0h2m1 0h1m1 0h1m3 0h1M311 197h1m4 0h1m26 0h1m2 0h1M342 198h1m4 0h2M317 199h1m2 0h1m5 0h1m21 0h2M303 200h1m38 0h1M336 201h1m12 0h1m8 0h1M306 202h1m16 0h1m18 0h1m2 0h2m1 0h1M311 203h1m26 0h1m15 0h1M339 204h1M308 205h2M293 206h1m47 0h1m2 0h1m8 0h1M307 208h3m42 0h1M327 209h1m4 0h1m4 0h1m15 0h1M337 210h2M308 211h1m1 0h1m17 0h1m9 0h1m5 0h1m5 0h1M317 212h1m23 0h1m7 0h1M293 213h1m31 0h1m14 0h1m5 0h2M306 214h1m10 0h1m5 0h1m14 0h1m5 0h1M304 215h1m38 0h1M292 216h1m3 0h1m2 0h2m1 0h1m2 0h1m22 0h1m1 0h1m12 0h1M300 217h1m1 0h2m13 0h1m1 0h1m12 0h1m8 0h1m16 0h1M309 218h2m1 0h1m25 0h1m10 0h1M303 219h2m9 0h1m24 0h1m2 0h1M298 220h2m1 0h5m33 0h3M293 221h1m1 0h1m8 0h1m5 0h1m3 0h2m6 0h1m2 0h2M301 222h1m5 0h1m13 0h1m20 0h2M307 223h1m2 0h1m26 0h1M305 224h1m3 0h1m7 0h1m4 0h1m12 0h1m3 0h1M308 225h2m3 0h1m1 0h1m1 0h2m3 0h1m1 0h1M308 226h1m3 0h1m7 0h1m1 0h1M314 227h1m9 0h2M321 228h1m11 0h1M309 229h2m3 0h1m6 0h1m9 0h1m10 0h1M310 230h1m1 0h1m5 0h1m8 0h1M311 231h1m17 0h1M314 232h2m5 0h1m20 0h1m8 0h1M316 233h1m9 0h1M315 234h1M330 235h1M325 236h1M315 237h1M317 238h1m11 0h1m13 0h1M314 239h1m15 0h1M315 240h1M316 241h2M314 242h1m1 0h1m8 0h1M315 243h1m21 0h1M313 244h1m1 0h1m9 0h1M313 245h1m37 0h1M313 246h1m3 0h1m6 0h1m15 0h2M316 247h1" stroke="#adadad"/><path d="M453 176h1M454 177h3M452 178h1m2 0h1M453 179h5M452 180h1m1 0h1m1 0h2M451 181h1m3 0h2M456 182h1M454 183h2M437 185h1M401 191h1M443 193h1M426 198h1M451 206h1M401 208h1M417 210h1M455 215h1M408 218h1M442 224h1M402 225h1M399 226h1m1 0h1m1 0h2m2 0h1M397 227h1m6 0h1m1 0h1M399 228h9m37 0h1M397 229h1m2 0h5m1 0h3m2 0h1M398 230h1m1 0h9m1 0h1M397 231h15M397 232h15m1 0h1M397 233h16m2 0h1M397 234h17M397 235h18M397 236h17m1 0h2M397 237h19M397 238h20M397 239h18m1 0h1M397 240h18m24 0h1M397 241h19M397 242h19m2 0h1M397 243h18M397 244h20M397 245h18m1 0h1M397 246h20" stroke="#000"/><path d="M445 162h1M448 166h1M439 170h1m11 0h1M420 176h1m28 0h1m4 0h3M457 177h1M436 178h1m16 0h2m1 0h1M452 179h1m5 0h1M451 180h1m1 0h1m1 0h1M452 181h3M458 182h1M443 183h1m8 0h2m10 0h1M443 184h1M454 185h1M429 186h1m11 0h1M448 187h1M442 188h1m9 0h1M424 194h1m24 0h1M444 201h1M411 202h1M454 204h1M420 213h1m6 0h1M420 214h1m1 0h1M398 215h1m6 0h1m2 0h1M435 217h1M402 218h1M419 220h1M401 221h1m5 0h2m1 0h1m6 0h1M406 222h1m12 0h1M410 223h1M398 224h1m26 0h1M397 225h1m2 0h1m6 0h2M398 226h1m1 0h1m1 0h1m3 0h1M399 227h5m1 0h1m1 0h2m36 0h1M397 228h2m9 0h1m1 0h3m20 0h1M398 229h2m5 0h1m3 0h2M397 230h1m1 0h1m9 0h1m2 0h2m4 0h1M412 231h1m3 0h1M412 232h1m2 0h1M413 233h2M416 234h1M415 235h1m4 0h1M414 236h1m42 0h1M421 237h1m29 0h1M415 239h1m1 0h1M415 240h2M416 241h1M416 242h2M415 243h1m2 0h1M417 244h1m1 0h1M415 245h1" stroke="#333"/><path d="M455 165h1M456 167h1M442 172h1M449 173h1M447 174h1M454 175h2M450 176h1M452 177h1M449 178h1m1 0h1m5 0h2M432 179h1m18 0h1M441 180h1m16 0h1M444 181h1m12 0h3M445 182h1m5 0h2m1 0h2M451 183h1m5 0h2m3 0h1M446 184h1m6 0h3m1 0h1M450 185h1M449 186h1m2 0h1m4 0h1M453 187h1M420 189h1m33 0h1M445 190h1M451 192h1M408 195h1m47 0h1M453 198h1M404 199h1m23 0h1M428 200h1m1 0h1M440 201h1M407 202h1M413 203h1M419 204h1M432 205h1m17 0h1M400 206h1m10 0h1m8 0h1M418 208h1M415 209h1M408 210h1m10 0h1M401 211h1m19 0h1M403 212h1M412 213h1m32 0h1m14 0h1M412 214h1m37 0h1M425 215h1M424 216h1m18 0h1M399 217h1m3 0h1m42 0h1M403 218h1m26 0h1M401 219h1m1 0h1m8 0h1m4 0h1M403 220h1M402 221h3m14 0h1m2 0h1M404 222h1m4 0h1m6 0h1M399 223h1m7 0h1M397 224h1m3 0h2m3 0h5m3 0h1m13 0h1m3 0h1m3 0h1M398 225h1m2 0h1m1 0h2m6 0h1m1 0h1m3 0h1m16 0h1m16 0h1M408 226h1m8 0h1M398 227h1m10 0h2M409 228h1m58 0h1M413 229h1M415 230h1M413 231h1m1 0h1M414 232h1m3 0h1m2 0h1M416 235h2M417 236h3M416 237h2M417 238h1M418 239h1M418 240h1M417 241h2M416 243h2M418 244h1M417 245h1M423 246h1" stroke="#616161"/><path d="M458 168h1M458 171h1M450 173h1M444 175h1m3 0h1m7 0h1M452 176h1M451 177h1m1 0h1M450 178h1M448 179h1m10 0h1m8 0h1M459 180h1M443 181h1m5 0h1M437 182h1m11 0h1m3 0h1m3 0h1m2 0h1M423 183h1m32 0h1m2 0h1M451 184h1m4 0h1m1 0h1M449 185h1M451 186h1m4 0h1M449 188h1m4 0h1M437 189h1m20 0h1M462 190h1M405 191h1m34 0h1m14 0h1M404 192h1M416 193h1m16 0h1m13 0h1m8 0h1M409 194h1M415 196h1m20 0h1m21 0h1M444 197h1M450 199h1m2 0h1M416 200h1M416 203h1M405 204h1m22 0h1M419 207h1M438 208h1M414 210h1M418 211h1m8 0h1m18 0h1m3 0h1M405 212h1m18 0h1M409 213h1M403 215h1m10 0h1m33 0h1M397 216h1m17 0h1m1 0h1m3 0h1m5 0h1m3 0h1M417 217h1m1 0h1m5 0h1M401 218h1M404 219h1m4 0h2m31 0h1m13 0h1M397 220h1m1 0h1m1 0h2m7 0h1m7 0h1M399 221h2m4 0h1m5 0h2M398 222h1m3 0h2m38 0h1M400 223h1m1 0h1m2 0h1M405 224h1m12 0h1m18 0h1M406 225h1m2 0h2m3 0h1m1 0h1m2 0h1M397 226h1m7 0h1m3 0h1m1 0h3m1 0h2M413 227h1m1 0h2M414 228h1m6 0h1M412 229h1m2 0h1m2 0h1m26 0h1M411 230h1M414 231h1m7 0h1M416 232h2M425 233h1m22 0h1M423 235h1M449 236h1M418 237h1M417 240h1m1 0h1M419 241h1m2 0h1M419 245h1M417 246h1m3 0h1" stroke="#8a8a8a"/><path d="M449 169h1m9 0h1M458 170h1M447 172h1M451 173h1m2 0h2M448 174h1m2 0h1M446 175h1m4 0h3m3 0h2M451 176h1m5 0h2M458 177h1M448 178h1M450 179h1M448 180h1m1 0h1M450 181h1M442 183h1m6 0h1M421 184h1m17 0h1M418 185h1m32 0h1M451 188h1M427 189h1m18 0h1M410 190h1m57 0h1M420 191h1M414 192h1m34 0h2M460 193h1M402 194h1m27 0h1M453 195h1M447 196h1m12 0h1M420 197h1m24 0h1M413 199h1m43 0h1M401 200h1m1 0h1m20 0h1m22 0h1M416 201h1M406 206h1m48 0h1M404 208h1M404 209h1M405 211h1m1 0h1m16 0h1m24 0h1M407 212h1m14 0h1m33 0h1M399 213h1m1 0h1m1 0h2M411 214h1m7 0h1m27 0h1M400 215h1m9 0h1m10 0h1m24 0h1m2 0h1M425 216h1m8 0h1M402 217h1m1 0h1m5 0h2m2 0h1M409 218h1m9 0h1M400 219h1m4 0h1m5 0h1m4 0h1m48 0h1M398 220h1m1 0h1m4 0h1m7 0h1m12 0h1m9 0h1M406 221h1m2 0h1m3 0h1M400 222h1m4 0h1m9 0h1m5 0h1M398 223h1m2 0h1m1 0h2m3 0h2m2 0h1M399 224h1m3 0h2m12 0h1M405 225h1M410 226h1M411 227h1m2 0h1M422 229h1M414 230h1m2 0h1M427 231h1M437 232h1M416 233h1M414 234h2m3 0h2m8 0h1M418 235h1M425 236h1m6 0h1M420 237h1M447 238h1M430 239h1M419 242h1M419 246h1" stroke="#adadad"/><path d="M339 290h1M350 293h2m3 0h1M351 294h1m1 0h2m1 0h1M348 295h4m1 0h2M349 296h7M344 297h1m1 0h13M345 298h1m1 0h10m1 0h1M344 299h1m1 0h14M344 300h15M344 301h12m1 0h1M344 302h2m1 0h8m1 0h1M344 303h12M303 304h1m43 0h8M329 305h1m14 0h2m1 0h1m1 0h5M346 306h1m1 0h2m5 0h1M348 307h1m1 0h2M349 308h1M345 309h1M347 311h1M344 312h2M345 313h1m4 0h1M348 314h1M353 317h1M332 319h1M352 326h1M338 327h1M322 328h1M307 333h1M302 334h1m42 0h1M299 335h1m27 0h1M310 337h1m14 0h1M302 338h1m50 0h1M311 339h1M302 340h2M310 342h1M298 344h1m47 0h1M295 345h1m1 0h1m6 0h1M296 346h1m1 0h1m1 0h1m1 0h1M293 347h1m1 0h2m1 0h3m2 0h2m1 0h1M294 348h13m1 0h1m17 0h1M293 349h14m1 0h1M293 350h15m1 0h1m21 0h1M293 351h17M293 352h17m1 0h1m10 0h1m12 0h1M293 353h18M293 354h19M293 355h20M293 356h19M293 357h19M293 358h19m10 0h1M293 359h19M293 360h19M293 361h18M293 362h18M293 363h17M293 364h15M293 365h1m1 0h10m1 0h1M295 366h2m1 0h5M300 367h1" stroke="#000"/><path d="M342 283h1M348 287h1M350 290h1M341 294h1m6 0h3m1 0h1M338 295h1m4 0h1m3 0h1m4 0h1m2 0h2M345 296h1m2 0h1m7 0h3M345 297h1m16 0h1M346 298h1m10 0h1M345 299h1M337 300h1m1 0h1m19 0h1M330 301h1m11 0h1m13 0h1M306 302h1m5 0h1m25 0h1m3 0h1m3 0h1m8 0h1M339 303h1m18 0h1M336 304h1m4 0h1m3 0h2m9 0h1M331 305h1m1 0h1m9 0h1m2 0h1m1 0h1m7 0h1M320 306h1m24 0h1m4 0h3M302 307h1m34 0h1m7 0h1m3 0h1m3 0h1M344 308h1m2 0h2m13 0h1M320 309h1m20 0h1m4 0h1m2 0h1M343 310h1m1 0h1m1 0h2m1 0h1m9 0h1M343 311h2M343 312h1m4 0h1M323 313h1m17 0h1m2 0h1m2 0h1m1 0h1M338 314h1m3 0h1m3 0h2M334 315h1m1 0h1m1 0h1m6 0h1M350 316h1m2 0h1M348 319h1m9 0h1M331 321h1m4 0h1m3 0h1m9 0h1M306 322h1m20 0h1m3 0h1M313 324h1m5 0h2m23 0h1M319 325h1m16 0h1M303 326h1m23 0h1M348 327h2M300 328h1m25 0h1M324 329h1m11 0h1m15 0h1M308 330h1m12 0h1M314 331h1m33 0h1M296 332h1M299 333h1m4 0h1M296 334h1m1 0h1m2 0h1m5 0h1m3 0h1m32 0h1M303 335h1m17 0h1M301 336h1m1 0h1m25 0h1m9 0h1M295 337h3m6 0h1m6 0h1m26 0h1M298 338h1m4 0h1m1 0h2m4 0h1m8 0h1M295 339h1m1 0h2m3 0h1m7 0h1m6 0h1m7 0h1m5 0h1m8 0h1M299 340h1m1 0h1m5 0h1m27 0h1m4 0h1M297 341h2m2 0h1m1 0h1m1 0h1m3 0h1m2 0h1m16 0h1M296 342h1m2 0h3m28 0h1M298 343h1m1 0h1m2 0h1m12 0h1M309 344h1M303 345h1M297 346h1m1 0h1m1 0h1M294 347h1m2 0h1m3 0h2m2 0h1m3 0h1m3 0h1m24 0h1M293 348h1m13 0h1m1 0h2M307 349h1M308 350h1m9 0h1m4 0h1M310 351h1M329 352h1M329 353h1M331 354h1M317 355h1M312 358h1M338 359h1M311 361h1M332 362h1M308 364h1M294 365h1m12 0h1M297 366h1m5 0h3M307 367h1" stroke="#333"/><path d="M357 287h1M341 289h1M351 290h1M339 292h1m8 0h1m3 0h1M347 293h1m1 0h1m6 0h1M345 294h1M342 295h1M336 296h1m9 0h2M363 297h1M341 298h1m17 0h1M340 299h1m2 0h1M335 300h2m5 0h1M326 301h1m11 0h4m16 0h1M323 302h1m13 0h1m1 0h1m1 0h1m15 0h2M322 303h1m17 0h1m2 0h1m12 0h2m3 0h1M333 304h1m4 0h1m4 0h2m10 0h1m1 0h2M342 305h1m11 0h1M340 306h1m1 0h1m11 0h1m2 0h1M341 307h3m3 0h1m4 0h1m2 0h1M314 308h1m4 0h1m17 0h2m2 0h2m2 0h2m5 0h1m1 0h2M311 309h1m16 0h1m11 0h1m1 0h3m2 0h1M338 310h1m2 0h2m1 0h1m1 0h1m5 0h1M315 311h1m20 0h1m1 0h1m2 0h2m2 0h1m2 0h2M317 312h2m20 0h1m1 0h1m4 0h2m1 0h1m11 0h1m11 0h1M329 313h1m5 0h1m6 0h1m5 0h1m3 0h1m19 0h1M349 314h1m2 0h1M323 315h1m11 0h1m1 0h1m6 0h1m4 0h1m1 0h1M307 316h1m38 0h1m2 0h1M338 317h1m4 0h2m3 0h2m1 0h1M319 318h1m17 0h1m12 0h2M314 319h1m27 0h1m4 0h1M311 321h1m9 0h1m20 0h1m8 0h1m7 0h1M348 322h2m3 0h1m4 0h1M318 323h1m19 0h1m8 0h1m9 0h1M305 324h1m12 0h1M333 325h1m9 0h1m1 0h1M309 326h1m14 0h1m1 0h1M293 327h1m39 0h1m1 0h1m3 0h1m14 0h1M294 328h1m9 0h1m5 0h1m7 0h1m17 0h1M299 329h1m13 0h1m29 0h1M303 330h1m28 0h1M293 331h1m7 0h1m18 0h1m16 0h1m2 0h1m10 0h1M295 332h1m3 0h1m1 0h1m3 0h1m1 0h1m4 0h1m44 0h1M298 333h1m2 0h1m1 0h1m7 0h1m29 0h1m4 0h1m6 0h1M295 334h1m3 0h2m3 0h1m9 0h1m2 0h1m10 0h1M297 335h1m3 0h2m3 0h2m11 0h1m9 0h1m13 0h2M294 336h1m3 0h2m5 0h1m2 0h1m1 0h1m2 0h1m4 0h1m5 0h1m8 0h1m2 0h1m3 0h1m7 0h1M298 337h2m1 0h2m5 0h1m27 0h1m11 0h1M297 338h1m2 0h2m5 0h1m15 0h1m19 0h1m2 0h1M296 339h1m2 0h1m3 0h3m1 0h1m10 0h2m6 0h1m5 0h1m3 0h1M294 340h1m1 0h3m5 0h1m1 0h1m3 0h2m9 0h1m2 0h1m25 0h2M304 341h1m5 0h1m6 0h1m3 0h1m9 0h1m7 0h1m11 0h1M294 342h2m6 0h1m1 0h2m2 0h1m38 0h1M293 343h1m1 0h1m3 0h1m2 0h1m1 0h1m1 0h1m2 0h1m11 0h1m7 0h1m1 0h2M295 344h1m5 0h2m1 0h1m6 0h1m2 0h1m5 0h1m1 0h1m2 0h1M296 345h1m1 0h5m2 0h2m1 0h1m12 0h1m11 0h1m2 0h1m1 0h2M293 346h2m9 0h2m2 0h1m1 0h1m1 0h1m5 0h1m2 0h1m7 0h1m7 0h1m2 0h1m2 0h1M307 347h2m8 0h1m12 0h1M311 348h2m8 0h1m2 0h1M309 349h1m17 0h1m10 0h1M310 350h1m1 0h1M314 351h1m9 0h1m1 0h1M310 352h1m2 0h1m10 0h1m15 0h1M312 353h1m11 0h1M312 354h1m23 0h1M314 355h2M312 356h1m5 0h1m6 0h1M312 357h1m1 0h1m7 0h1m3 0h1m9 0h1M324 358h1m7 0h1M322 359h1m12 0h1M312 360h1m3 0h1M312 361h1M309 364h1M305 365h1m11 0h1m8 0h1M294 366h1m12 0h1M296 367h1m1 0h2m3 0h1m2 0h1" stroke="#616161"/><path d="M346 274h1M337 283h1M349 290h1M336 291h1m17 0h1M334 292h1m7 0h1m7 0h1m2 0h1m2 0h1M346 293h1m1 0h1m3 0h3M355 294h1M345 295h2m10 0h2M332 296h1m4 0h2m20 0h2M336 297h1m2 0h2m1 0h1M338 298h1m4 0h2m20 0h1M335 299h1M329 300h1m13 0h1M314 301h1m28 0h1m16 0h1M322 302h1m5 0h1m11 0h1m2 0h1m15 0h2M334 303h1m3 0h1m2 0h2m26 0h1M331 304h1m7 0h1m2 0h1M339 305h1m1 0h1m13 0h1m1 0h1M325 306h1m11 0h1m1 0h1m3 0h2m8 0h1M335 307h1m3 0h2m3 0h1m1 0h1m7 0h1M325 308h1m17 0h1m6 0h2M307 309h1m30 0h2m10 0h1m3 0h1m1 0h1M326 310h1m9 0h1m12 0h1m12 0h1M326 311h2m11 0h2m5 0h1m3 0h2m1 0h1m4 0h1M340 312h1m1 0h1m7 0h2m7 0h1m2 0h1M316 313h1m3 0h1m19 0h1m2 0h1m9 0h1M311 314h1m5 0h1m6 0h1m5 0h1m8 0h1m5 0h1m5 0h1m9 0h1M317 315h1m4 0h1m19 0h1m4 0h1M336 316h1m4 0h1m1 0h3m2 0h1M340 317h1m1 0h1m3 0h2M326 318h1m12 0h1m5 0h1m2 0h2m3 0h1M337 319h1m2 0h1m2 0h1m2 0h1m2 0h2m1 0h1m4 0h1M315 320h1m22 0h1m1 0h1m2 0h3m1 0h1M301 321h1m18 0h1m26 0h1m5 0h1M301 322h1m7 0h1m28 0h2m11 0h2M322 323h1m3 0h1m13 0h2m12 0h1M304 324h1m34 0h1m3 0h1M304 325h1m16 0h1m12 0h1M297 326h1m2 0h1m32 0h1m2 0h1m11 0h1M295 327h1m44 0h1m3 0h1M309 328h1M298 329h1m7 0h1m1 0h1m28 0h1m1 0h3m4 0h2M295 330h1m8 0h1m2 0h1m3 0h1m14 0h1m14 0h1M294 331h2m1 0h1m5 0h1m22 0h1m2 0h1m14 0h1M293 332h2m5 0h1m2 0h1m2 0h1M295 333h1m6 0h1m2 0h2m1 0h1m8 0h1m13 0h1m13 0h1M297 334h1m7 0h1m9 0h1m38 0h1M296 335h1m1 0h1m1 0h1m3 0h2m2 0h2m23 0h1m6 0h1M296 336h2m2 0h1m3 0h1m33 0h1m2 0h1m4 0h1M293 337h2m8 0h1m2 0h1M295 338h2m7 0h1m4 0h1m4 0h2m24 0h2m9 0h1M294 339h1m6 0h1m4 0h1m1 0h1m3 0h1M293 340h1m6 0h1m13 0h2m11 0h1m1 0h1M294 341h3m2 0h1m2 0h1m4 0h2M293 342h1m3 0h2m7 0h1m4 0h2m13 0h1m7 0h1m10 0h1M294 343h1m1 0h2m3 0h1m8 0h2m7 0h1m2 0h1m10 0h2m1 0h2M293 344h2m1 0h1m2 0h2m4 0h1m2 0h1m1 0h1m1 0h1m8 0h1m9 0h1M293 345h2m17 0h1m1 0h2m1 0h1m1 0h1m6 0h2m7 0h1m13 0h1M295 346h1m7 0h1m2 0h2m1 0h1m21 0h1m1 0h1M311 347h1m7 0h1m2 0h1m1 0h1m1 0h1m5 0h1m14 0h1M313 348h1m18 0h1m10 0h1M310 349h1m2 0h2m5 0h2m1 0h2M311 350h1m5 0h1m3 0h1m12 0h1m8 0h1M311 351h2m7 0h1m1 0h1m16 0h1M312 352h1m5 0h1m7 0h1m16 0h1m4 0h1M311 353h1m2 0h1m4 0h1M334 354h1M318 355h1m21 0h1M316 356h1m6 0h1m7 0h1M313 357h1M313 358h1m1 0h1m2 0h2m8 0h2M312 359h1M329 360h1M313 361h1M319 362h1M312 363h1M310 364h2M308 365h2m17 0h1M293 366h1m12 0h1m1 0h2M297 367h1m4 0h1" stroke="#8a8a8a"/><path d="M342 275h1M343 283h1M330 285h1M352 286h1M344 287h1M353 288h1M346 289h1m4 0h1M352 290h1M352 291h2m1 0h1M347 292h1m7 0h1M343 293h1m13 0h1M346 294h2m9 0h1M303 295h1m40 0h1M335 297h1m2 0h1m4 0h1m20 0h1M342 298h1m20 0h1M324 299h1m12 0h1m3 0h2m23 0h1M338 300h1m2 0h1M310 301h1m48 0h1m2 0h1M313 302h1m4 0h1m17 0h1M336 303h2M334 304h1m5 0h1m18 0h1M301 305h1m33 0h1m2 0h1m1 0h1M318 306h1m12 0h1m6 0h1m2 0h1m5 0h1M327 307h1m5 0h1m22 0h1m15 0h1M339 308h1m13 0h1M348 309h1m2 0h1m1 0h1m6 0h1M340 310h1m10 0h1m1 0h2m3 0h1M314 311h1m2 0h1m4 0h1m34 0h1m7 0h1M314 312h1m17 0h1m19 0h1M318 313h1m19 0h2m6 0h1M309 314h1m15 0h1m7 0h1m3 0h1m2 0h1m2 0h1m6 0h1M316 315h1m22 0h2m2 0h1m4 0h1m4 0h2M323 316h1m8 0h1m5 0h1m3 0h1m9 0h1m5 0h1M345 317h1m8 0h1M330 318h1m7 0h1m1 0h1m2 0h1m3 0h1M319 319h1m11 0h1m1 0h1m19 0h1M309 320h1M306 321h1m19 0h1M308 322h1m1 0h1m36 0h1m7 0h1M329 323h1m4 0h1m13 0h1M307 324h2m12 0h1m15 0h1m8 0h1M327 325h1m10 0h1m14 0h1m1 0h1M299 326h1m14 0h1m3 0h1m25 0h1m11 0h1M298 327h1m13 0h1M297 328h1m51 0h1M300 329h1m1 0h1m4 0h1m7 0h1m2 0h1M301 330h1m15 0h1m17 0h1M298 331h1m3 0h1m1 0h1m4 0h1m1 0h1m38 0h1M297 332h1m4 0h1m7 0h1M297 333h1m2 0h1m11 0h1m3 0h1m21 0h1m9 0h1m6 0h1M294 334h1m8 0h1m2 0h1m3 0h1m23 0h1m6 0h1M294 335h1m23 0h1m22 0h1M293 336h1m1 0h1m6 0h1m3 0h1m5 0h1m7 0h1M300 337h1m4 0h1m3 0h1m3 0h1m1 0h1m3 0h1m4 0h1m10 0h1m8 0h2M294 338h1m17 0h2m24 0h1M293 339h1m6 0h1m8 0h1m20 0h1m4 0h1m3 0h1M295 340h1m9 0h1m2 0h2m3 0h1m4 0h3m2 0h1M293 341h1m6 0h1m5 0h1m4 0h1m3 0h1M303 342h1m3 0h1m1 0h1m3 0h2m12 0h1m3 0h2M307 343h2m3 0h1m15 0h1m6 0h1m6 0h1M297 344h1m5 0h1m2 0h2m8 0h2M307 345h1m3 0h1m1 0h1m2 0h1m5 0h1m6 0h1m4 0h1M311 346h1m4 0h2m5 0h1m14 0h1M348 347h1M338 348h1m5 0h1M311 349h1m3 0h1m1 0h2m17 0h2M316 350h1m21 0h1m3 0h1M315 351h1M314 352h1M313 353h1m1 0h1m9 0h1m5 0h1m11 0h1M313 354h1m23 0h1M313 355h1m6 0h1m2 0h1m5 0h1m4 0h1m25 0h1M332 356h1M319 357h1M326 358h1M313 359h3m2 0h1m33 0h1M341 360h1M323 361h1m5 0h1M311 362h2M335 363h1M320 364h1M328 366h1M295 367h1m8 0h1" stroke="#adadad"/><path d="M454 307h1M438 316h1M450 327h1M443 337h1M403 343h1m25 0h1M405 350h1M399 351h3m1 0h3m1 0h2M400 352h5m1 0h1m1 0h2M397 353h16m3 0h1M397 354h15m1 0h1M397 355h15m2 0h1M397 356h17M397 357h18M397 358h18M397 359h18M397 360h20M397 361h19M397 362h18M397 363h19M397 364h18M397 365h18M397 366h16M397 367h14m1 0h1" stroke="#000"/><path d="M450 294h1m2 0h1M456 298h1M445 300h1M449 301h1M450 303h1m1 0h1M452 304h1M425 308h1M407 325h1M419 327h1M408 333h1M398 334h1M401 335h1M428 336h1M400 338h1m6 0h1M406 340h1M406 343h1M402 344h1M398 347h1M406 348h2m8 0h1M401 349h1m1 0h1m3 0h1m4 0h1M401 350h2m4 0h1m4 0h1M398 351h1m3 0h1m3 0h1m2 0h1m9 0h1m5 0h1M398 352h2m5 0h1m1 0h1m3 0h1M413 353h1M412 354h1M412 355h1M414 356h1m1 0h1M415 357h1M415 358h2M415 359h1M415 362h1M413 366h1M411 367h1m1 0h1" stroke="#333"/><path d="M450 298h3M452 300h1m1 0h1m2 0h1m1 0h1M454 301h1M447 302h1M451 303h1m2 0h1M454 304h1M455 305h1M450 307h1M451 312h1M455 315h1M422 320h1m21 0h1m12 0h1M410 322h1M412 332h1m16 0h1m28 0h1M457 334h1M405 337h1M407 340h1m25 0h1m9 0h1M405 342h1m14 0h1M402 343h1m22 0h1M408 344h1m5 0h1M399 345h1m24 0h1M405 346h1m2 0h1M400 347h1m2 0h1M400 348h1m1 0h1M398 349h2m4 0h1m4 0h1m3 0h1m8 0h1M406 350h1m1 0h1M410 351h1M410 352h1M415 354h1M413 355h1M417 360h1M417 362h1M416 363h1M416 364h1M415 365h1M414 366h1M414 367h1" stroke="#616161"/><path d="M454 289h1M456 292h1M451 295h1m2 0h1m2 0h1M451 296h1m1 0h1M452 297h2M450 299h1M449 300h1M451 301h1M445 302h1m3 0h1M442 304h1m10 0h1M452 306h1M452 307h1M419 322h1M405 323h1M421 327h1m27 0h1M408 329h1M403 330h1M406 334h1M403 337h1M404 338h1m11 0h1M404 339h1M401 340h1M402 341h1M401 342h2m23 0h1M399 343h1m1 0h1m3 0h1m41 0h1M400 346h1m5 0h1M397 348h1m6 0h1M402 349h1m2 0h2m1 0h1m24 0h1M397 350h1m1 0h2m2 0h1m5 0h1m1 0h1m4 0h1M411 351h2M397 352h1m14 0h1m3 0h1m4 0h1M414 353h1M429 354h1M417 355h1M417 357h1M419 360h1M416 361h1m30 0h1M415 364h1m2 0h1" stroke="#8a8a8a"/><path d="M448 295h1M455 297h1M453 298h2M451 300h1M453 301h1m3 0h1M454 302h2M443 303h1m12 0h2M451 304h1M447 305h1M451 307h1M457 308h1M454 309h1M422 315h1M426 318h1M421 319h1M412 331h1M400 337h1m11 0h1M406 339h1m17 0h1M399 341h2m2 0h1m4 0h1M400 344h1m2 0h1m1 0h1m13 0h1M397 345h1m3 0h1m11 0h1M402 346h1m6 0h1m2 0h1M409 347h1M400 349h1m10 0h1M404 350h1m9 0h1M414 354h1M415 355h1M415 356h1m1 0h1M417 359h1M417 361h2M419 362h1M415 366h2M415 367h1" stroke="#adadad"/></g>
<line x1="331.4" y1="36.9" x2="331.4" y2="133.4" stroke="#666" stroke-width="1" />
<line x1="291.5" y1="94.4" x2="388.3" y2="94.4" stroke="#666" stroke-width="1" />
<rect x="291.5" y="36.9" width="96.80000000000001" height="96.5" fill="none" stroke="#777" stroke-width="1" />
<text x="327.9" y="33.7" font-family='"Liberation Sans", sans-serif' font-size="8.5" font-weight="bold" text-anchor="start" fill="#000" stroke="#000" stroke-width="0.22" >WT</text>
<text x="293.3" y="45.0" font-family='"Liberation Sans", sans-serif' font-size="6.4" font-weight="bold" text-anchor="start" fill="#000" stroke="#000" stroke-width="0.4" >1.66</text>
<text x="388.6" y="45.3" font-family='"Liberation Sans", sans-serif' font-size="6.4" font-weight="bold" text-anchor="end" fill="#000" stroke="#000" stroke-width="0.4" >10.55</text>
<text x="387.0" y="130.9" font-family='"Liberation Sans", sans-serif' font-size="6.4" font-weight="bold" text-anchor="end" fill="#000" stroke="#000" stroke-width="0.4" >1.52</text>
<rect x="292.3" y="127.60000000000001" width="13" height="5.2" fill="#d6d6d6" stroke="#9a9a9a" stroke-width="0.6" />
<text x="293.3" y="131.8" font-family='"Liberation Sans", sans-serif' font-size="4" font-weight="normal" text-anchor="start" fill="#707070" >85.21</text>
<line x1="436.3" y1="36.5" x2="436.3" y2="132.1" stroke="#666" stroke-width="1" />
<line x1="397.1" y1="93.8" x2="493.7" y2="93.8" stroke="#666" stroke-width="1" />
<rect x="397.1" y="36.5" width="96.59999999999997" height="95.6" fill="none" stroke="#777" stroke-width="1" />
<text x="433.9" y="33.0" font-family='"Liberation Sans", sans-serif' font-size="8.5" font-weight="bold" text-anchor="start" fill="#000" stroke="#000" stroke-width="0.22" >KO</text>
<text x="397.9" y="44.1" font-family='"Liberation Sans", sans-serif' font-size="6.4" font-weight="bold" text-anchor="start" fill="#000" stroke="#000" stroke-width="0.4" >0.61</text>
<text x="493.3" y="44.5" font-family='"Liberation Sans", sans-serif' font-size="6.4" font-weight="bold" text-anchor="end" fill="#000" stroke="#000" stroke-width="0.4" >3.28</text>
<text x="492.3" y="129.6" font-family='"Liberation Sans", sans-serif' font-size="6.4" font-weight="bold" text-anchor="end" fill="#000" stroke="#000" stroke-width="0.4" >0.54</text>
<rect x="397.90000000000003" y="126.3" width="13" height="5.2" fill="#d6d6d6" stroke="#9a9a9a" stroke-width="0.6" />
<text x="398.90000000000003" y="130.5" font-family='"Liberation Sans", sans-serif' font-size="4" font-weight="normal" text-anchor="start" fill="#707070" >95.17</text>
<line x1="332.0" y1="152.5" x2="332.0" y2="248.1" stroke="#666" stroke-width="1" />
<line x1="290.0" y1="199.9" x2="387.6" y2="199.9" stroke="#666" stroke-width="1" />
<rect x="290.0" y="152.5" width="97.60000000000002" height="95.6" fill="none" stroke="#777" stroke-width="1" />
<text x="323.7" y="147.5" font-family='"Liberation Sans", sans-serif' font-size="8.5" font-weight="bold" text-anchor="start" fill="#000" stroke="#000" stroke-width="0.22" >WT-Δ</text>
<text x="292.8" y="161.8" font-family='"Liberation Sans", sans-serif' font-size="6.4" font-weight="bold" text-anchor="start" fill="#000" stroke="#000" stroke-width="0.4" >0.75</text>
<text x="386.3" y="161.8" font-family='"Liberation Sans", sans-serif' font-size="6.4" font-weight="bold" text-anchor="end" fill="#000" stroke="#000" stroke-width="0.4" >12.18</text>
<text x="384.5" y="243.4" font-family='"Liberation Sans", sans-serif' font-size="6.4" font-weight="bold" text-anchor="end" fill="#000" stroke="#000" stroke-width="0.4" >2.17</text>
<rect x="290.8" y="242.29999999999998" width="13" height="5.2" fill="#d6d6d6" stroke="#9a9a9a" stroke-width="0.6" />
<text x="291.8" y="246.5" font-family='"Liberation Sans", sans-serif' font-size="4" font-weight="normal" text-anchor="start" fill="#707070" >84.91</text>
<line x1="438.0" y1="151.6" x2="438.0" y2="247.9" stroke="#666" stroke-width="1" />
<line x1="396.6" y1="198.6" x2="495.2" y2="198.6" stroke="#666" stroke-width="1" />
<rect x="396.6" y="151.6" width="98.59999999999997" height="96.30000000000001" fill="none" stroke="#777" stroke-width="1" />
<text x="428.8" y="147.5" font-family='"Liberation Sans", sans-serif' font-size="8.5" font-weight="bold" text-anchor="start" fill="#000" stroke="#000" stroke-width="0.22" >K43M</text>
<text x="400.0" y="161.9" font-family='"Liberation Sans", sans-serif' font-size="6.4" font-weight="bold" text-anchor="start" fill="#000" stroke="#000" stroke-width="0.4" >1.25</text>
<text x="492.0" y="161.4" font-family='"Liberation Sans", sans-serif' font-size="6.4" font-weight="bold" text-anchor="end" fill="#000" stroke="#000" stroke-width="0.4" >4.19</text>
<text x="492.0" y="242.9" font-family='"Liberation Sans", sans-serif' font-size="6.4" font-weight="bold" text-anchor="end" fill="#000" stroke="#000" stroke-width="0.4" >0.72</text>
<rect x="397.40000000000003" y="242.1" width="13" height="5.2" fill="#d6d6d6" stroke="#9a9a9a" stroke-width="0.6" />
<text x="398.40000000000003" y="246.3" font-family='"Liberation Sans", sans-serif' font-size="4" font-weight="normal" text-anchor="start" fill="#707070" >93.84</text>
<line x1="333.6" y1="272.1" x2="333.6" y2="368.2" stroke="#666" stroke-width="1" />
<line x1="292.5" y1="319.9" x2="390.9" y2="319.9" stroke="#666" stroke-width="1" />
<rect x="292.5" y="272.1" width="98.39999999999998" height="96.09999999999997" fill="none" stroke="#777" stroke-width="1" />
<text x="323.2" y="267.5" font-family='"Liberation Sans", sans-serif' font-size="8.5" font-weight="bold" text-anchor="start" fill="#000" stroke="#000" stroke-width="0.22" >R31C</text>
<text x="296.0" y="281.8" font-family='"Liberation Sans", sans-serif' font-size="6.4" font-weight="bold" text-anchor="start" fill="#000" stroke="#000" stroke-width="0.4" >0.73</text>
<text x="389.2" y="281.8" font-family='"Liberation Sans", sans-serif' font-size="6.4" font-weight="bold" text-anchor="end" fill="#000" stroke="#000" stroke-width="0.4" >11.50</text>
<text x="387.4" y="364.1" font-family='"Liberation Sans", sans-serif' font-size="6.4" font-weight="bold" text-anchor="end" fill="#000" stroke="#000" stroke-width="0.4" >2.12</text>
<rect x="293.3" y="362.4" width="13" height="5.2" fill="#d6d6d6" stroke="#9a9a9a" stroke-width="0.6" />
<text x="294.3" y="366.59999999999997" font-family='"Liberation Sans", sans-serif' font-size="4" font-weight="normal" text-anchor="start" fill="#707070" >85.65</text>
<line x1="437.4" y1="272.4" x2="437.4" y2="368.2" stroke="#666" stroke-width="1" />
<line x1="396.2" y1="319.7" x2="494.6" y2="319.7" stroke="#666" stroke-width="1" />
<rect x="396.2" y="272.4" width="98.40000000000003" height="95.80000000000001" fill="none" stroke="#777" stroke-width="1" />
<text x="433.9" y="267.3" font-family='"Liberation Sans", sans-serif' font-size="8.5" font-weight="bold" text-anchor="start" fill="#000" stroke="#000" stroke-width="0.22" >DM</text>
<text x="400.1" y="281.9" font-family='"Liberation Sans", sans-serif' font-size="6.4" font-weight="bold" text-anchor="start" fill="#000" stroke="#000" stroke-width="0.4" >1.30</text>
<text x="491.0" y="282.2" font-family='"Liberation Sans", sans-serif' font-size="6.4" font-weight="bold" text-anchor="end" fill="#000" stroke="#000" stroke-width="0.4" >0.90</text>
<text x="491.6" y="364.4" font-family='"Liberation Sans", sans-serif' font-size="6.4" font-weight="bold" text-anchor="end" fill="#000" stroke="#000" stroke-width="0.4" >0.39</text>
<rect x="397.0" y="362.4" width="13" height="5.2" fill="#d6d6d6" stroke="#9a9a9a" stroke-width="0.6" />
<text x="398.0" y="366.59999999999997" font-family='"Liberation Sans", sans-serif' font-size="4" font-weight="normal" text-anchor="start" fill="#707070" >97.81</text>
</svg>
</body></html>
